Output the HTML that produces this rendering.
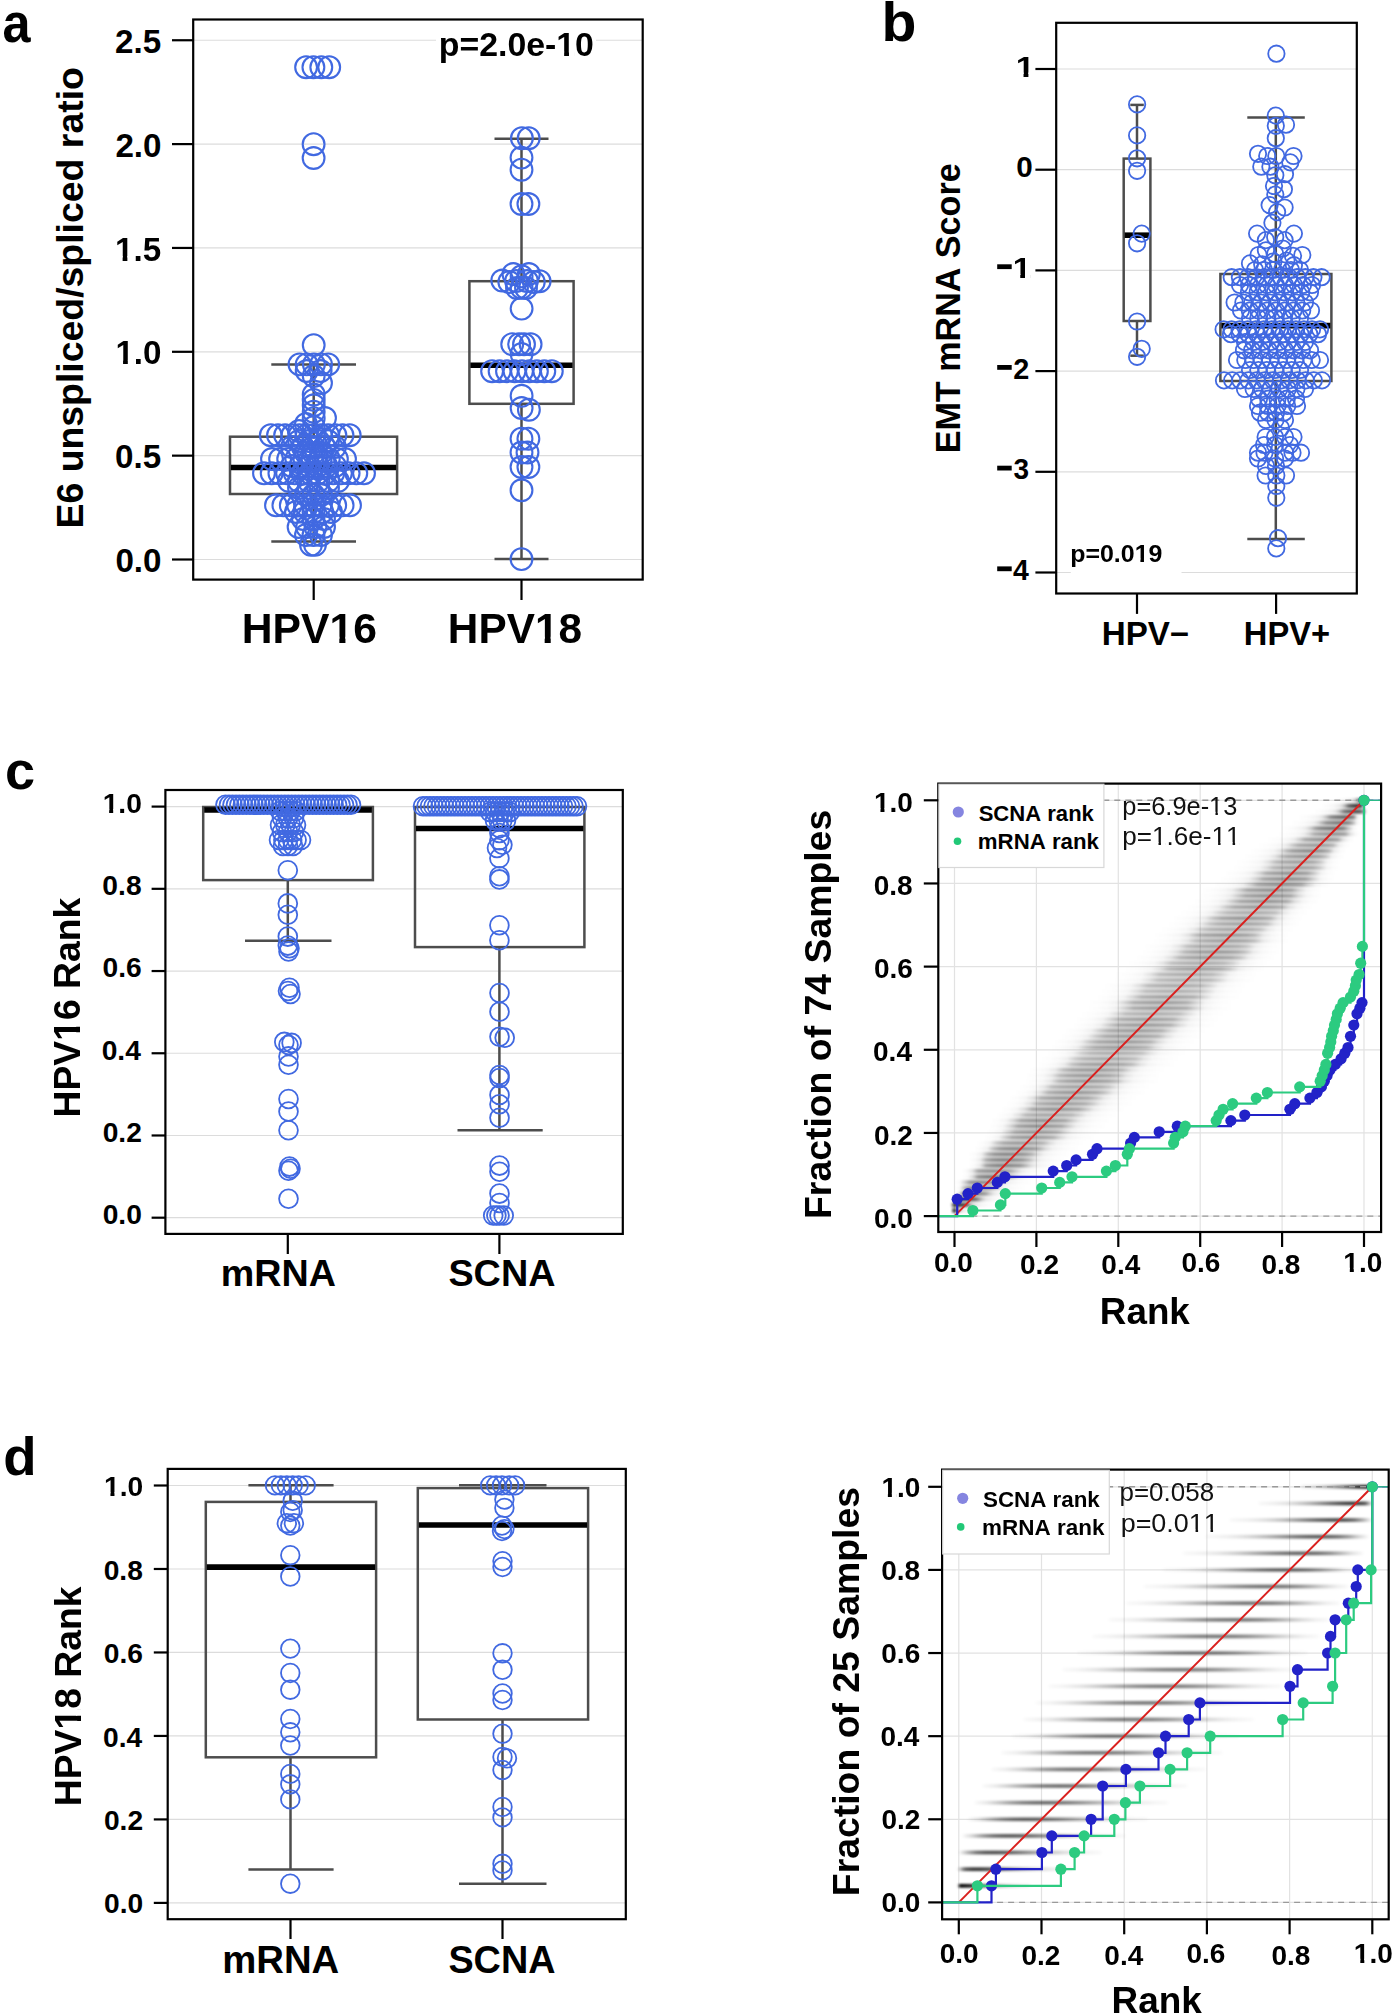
<!DOCTYPE html><html><head><meta charset="utf-8"><style>html,body{margin:0;padding:0;background:#fff;}svg{display:block;}text{font-kerning:none;font-feature-settings:"kern" 0;}</style></head><body>
<svg width="1395" height="2016" viewBox="0 0 1395 2016" font-family='"Liberation Sans", sans-serif'>
<rect width="1395" height="2016" fill="#fff"/>
<line x1="193.20" y1="559.50" x2="642.70" y2="559.50" stroke="#dcdcdc" stroke-width="1.2" />
<line x1="193.20" y1="455.65" x2="642.70" y2="455.65" stroke="#dcdcdc" stroke-width="1.2" />
<line x1="193.20" y1="351.80" x2="642.70" y2="351.80" stroke="#dcdcdc" stroke-width="1.2" />
<line x1="193.20" y1="247.95" x2="642.70" y2="247.95" stroke="#dcdcdc" stroke-width="1.2" />
<line x1="193.20" y1="144.10" x2="642.70" y2="144.10" stroke="#dcdcdc" stroke-width="1.2" />
<line x1="193.20" y1="40.25" x2="642.70" y2="40.25" stroke="#dcdcdc" stroke-width="1.2" />
<rect x="436" y="27" width="160" height="36" fill="#fff"/>
<g transform="translate(438.77,56.10) scale(0.9954,1)"><text font-size="34.00" font-weight="bold" fill="#000" mask="url(#m0)">p=2.0e-10</text></g>
<line x1="172.00" y1="559.50" x2="193.20" y2="559.50" stroke="#000" stroke-width="2.2" />
<g transform="translate(115.41,572.18)"><text font-size="33.20" font-weight="bold" fill="#000">0.0</text></g>
<line x1="172.00" y1="455.65" x2="193.20" y2="455.65" stroke="#000" stroke-width="2.2" />
<g transform="translate(114.97,468.33)"><text font-size="33.20" font-weight="bold" fill="#000">0.5</text></g>
<line x1="172.00" y1="351.80" x2="193.20" y2="351.80" stroke="#000" stroke-width="2.2" />
<g transform="translate(115.41,364.48)"><text font-size="33.20" font-weight="bold" fill="#000" mask="url(#m1)">1.0</text></g>
<line x1="172.00" y1="247.95" x2="193.20" y2="247.95" stroke="#000" stroke-width="2.2" />
<g transform="translate(114.97,260.63)"><text font-size="33.20" font-weight="bold" fill="#000" mask="url(#m2)">1.5</text></g>
<line x1="172.00" y1="144.10" x2="193.20" y2="144.10" stroke="#000" stroke-width="2.2" />
<g transform="translate(115.41,156.78)"><text font-size="33.20" font-weight="bold" fill="#000">2.0</text></g>
<line x1="172.00" y1="40.25" x2="193.20" y2="40.25" stroke="#000" stroke-width="2.2" />
<g transform="translate(114.97,52.93)"><text font-size="33.20" font-weight="bold" fill="#000">2.5</text></g>
<line x1="313.70" y1="579.60" x2="313.70" y2="600.00" stroke="#000" stroke-width="2.2" />
<line x1="521.50" y1="579.60" x2="521.50" y2="600.00" stroke="#000" stroke-width="2.2" />
<g transform="translate(241.75,642.80) scale(0.9832,1)"><text font-size="43.40" font-weight="bold" fill="#000" mask="url(#m3)">HPV16</text></g>
<g transform="translate(447.87,642.80) scale(0.9754,1)"><text font-size="43.40" font-weight="bold" fill="#000" mask="url(#m4)">HPV18</text></g>
<g transform="translate(83.10,528.50) rotate(-90) scale(1.0218,1)"><text font-size="36.60" font-weight="bold" fill="#000">E6 unspliced/spliced ratio</text></g>
<g transform="translate(2.62,42.26) scale(0.9062,1)"><text font-size="55.67" font-weight="bold" fill="#000">a</text></g>
<line x1="313.70" y1="364.50" x2="313.70" y2="436.70" stroke="#4d4d4d" stroke-width="2.5" />
<line x1="271.30" y1="364.50" x2="356.00" y2="364.50" stroke="#4d4d4d" stroke-width="2.5" />
<line x1="313.70" y1="494.00" x2="313.70" y2="541.60" stroke="#4d4d4d" stroke-width="2.5" />
<line x1="271.30" y1="541.60" x2="356.00" y2="541.60" stroke="#4d4d4d" stroke-width="2.5" />
<rect x="230.00" y="436.70" width="167.10" height="57.30" stroke="#4d4d4d" stroke-width="2.5" fill="none" />
<line x1="231.00" y1="467.50" x2="396.10" y2="467.50" stroke="#000" stroke-width="5.6" />
<line x1="521.50" y1="138.70" x2="521.50" y2="281.20" stroke="#4d4d4d" stroke-width="2.5" />
<line x1="494.50" y1="138.70" x2="548.50" y2="138.70" stroke="#4d4d4d" stroke-width="2.5" />
<line x1="521.50" y1="403.80" x2="521.50" y2="559.10" stroke="#4d4d4d" stroke-width="2.5" />
<line x1="494.50" y1="559.10" x2="548.50" y2="559.10" stroke="#4d4d4d" stroke-width="2.5" />
<rect x="469.40" y="281.20" width="104.20" height="122.60" stroke="#4d4d4d" stroke-width="2.5" fill="none" />
<line x1="470.40" y1="365.20" x2="572.60" y2="365.20" stroke="#000" stroke-width="5.6" />
<g fill="none" stroke="#4169e1" stroke-width="2.1">
<circle cx="306.1" cy="67.2" r="10.9"/>
<circle cx="313.4" cy="67.2" r="10.9"/>
<circle cx="321.3" cy="67.2" r="10.9"/>
<circle cx="329.2" cy="67.2" r="10.9"/>
<circle cx="313.6" cy="144.2" r="10.9"/>
<circle cx="313.6" cy="158.0" r="10.9"/>
<circle cx="313.7" cy="345.1" r="10.9"/>
<circle cx="299.5" cy="364.4" r="10.9"/>
<circle cx="306.7" cy="364.4" r="10.9"/>
<circle cx="313.9" cy="364.4" r="10.9"/>
<circle cx="321.0" cy="364.4" r="10.9"/>
<circle cx="328.2" cy="364.4" r="10.9"/>
<circle cx="306.7" cy="371.0" r="10.9"/>
<circle cx="320.6" cy="371.0" r="10.9"/>
<circle cx="313.7" cy="376.0" r="10.9"/>
<circle cx="321.0" cy="383.0" r="10.9"/>
<circle cx="313.7" cy="394.5" r="10.9"/>
<circle cx="313.7" cy="399.9" r="10.9"/>
<circle cx="313.7" cy="405.3" r="10.9"/>
<circle cx="313.7" cy="411.7" r="10.9"/>
<circle cx="313.7" cy="418.2" r="10.9"/>
<circle cx="325.0" cy="418.0" r="10.9"/>
<circle cx="306.0" cy="424.0" r="10.9"/>
<circle cx="313.7" cy="427.0" r="10.9"/>
<circle cx="299.0" cy="431.0" r="10.9"/>
<circle cx="270.8" cy="435.2" r="10.9"/>
<circle cx="278.0" cy="435.2" r="10.9"/>
<circle cx="285.1" cy="435.2" r="10.9"/>
<circle cx="292.3" cy="435.2" r="10.9"/>
<circle cx="299.5" cy="435.2" r="10.9"/>
<circle cx="306.7" cy="435.2" r="10.9"/>
<circle cx="313.8" cy="435.2" r="10.9"/>
<circle cx="321.0" cy="435.2" r="10.9"/>
<circle cx="328.2" cy="435.2" r="10.9"/>
<circle cx="335.4" cy="435.2" r="10.9"/>
<circle cx="342.5" cy="435.2" r="10.9"/>
<circle cx="349.7" cy="435.2" r="10.9"/>
<circle cx="299.0" cy="441.0" r="10.9"/>
<circle cx="308.7" cy="441.0" r="10.9"/>
<circle cx="318.3" cy="441.0" r="10.9"/>
<circle cx="328.0" cy="441.0" r="10.9"/>
<circle cx="292.0" cy="447.0" r="10.9"/>
<circle cx="302.8" cy="447.0" r="10.9"/>
<circle cx="313.5" cy="447.0" r="10.9"/>
<circle cx="324.2" cy="447.0" r="10.9"/>
<circle cx="335.0" cy="447.0" r="10.9"/>
<circle cx="306.0" cy="453.0" r="10.9"/>
<circle cx="313.5" cy="453.0" r="10.9"/>
<circle cx="321.0" cy="453.0" r="10.9"/>
<circle cx="272.0" cy="459.0" r="10.9"/>
<circle cx="280.1" cy="459.0" r="10.9"/>
<circle cx="288.2" cy="459.0" r="10.9"/>
<circle cx="296.3" cy="459.0" r="10.9"/>
<circle cx="304.4" cy="459.0" r="10.9"/>
<circle cx="312.6" cy="459.0" r="10.9"/>
<circle cx="320.7" cy="459.0" r="10.9"/>
<circle cx="328.8" cy="459.0" r="10.9"/>
<circle cx="336.9" cy="459.0" r="10.9"/>
<circle cx="345.0" cy="459.0" r="10.9"/>
<circle cx="292.0" cy="466.0" r="10.9"/>
<circle cx="300.6" cy="466.0" r="10.9"/>
<circle cx="309.2" cy="466.0" r="10.9"/>
<circle cx="317.8" cy="466.0" r="10.9"/>
<circle cx="326.4" cy="466.0" r="10.9"/>
<circle cx="335.0" cy="466.0" r="10.9"/>
<circle cx="264.0" cy="473.3" r="10.9"/>
<circle cx="271.7" cy="473.3" r="10.9"/>
<circle cx="279.4" cy="473.3" r="10.9"/>
<circle cx="287.1" cy="473.3" r="10.9"/>
<circle cx="294.8" cy="473.3" r="10.9"/>
<circle cx="302.5" cy="473.3" r="10.9"/>
<circle cx="310.2" cy="473.3" r="10.9"/>
<circle cx="317.8" cy="473.3" r="10.9"/>
<circle cx="325.5" cy="473.3" r="10.9"/>
<circle cx="333.2" cy="473.3" r="10.9"/>
<circle cx="340.9" cy="473.3" r="10.9"/>
<circle cx="348.6" cy="473.3" r="10.9"/>
<circle cx="356.3" cy="473.3" r="10.9"/>
<circle cx="364.0" cy="473.3" r="10.9"/>
<circle cx="289.0" cy="481.0" r="10.9"/>
<circle cx="298.8" cy="481.0" r="10.9"/>
<circle cx="308.6" cy="481.0" r="10.9"/>
<circle cx="318.4" cy="481.0" r="10.9"/>
<circle cx="328.2" cy="481.0" r="10.9"/>
<circle cx="338.0" cy="481.0" r="10.9"/>
<circle cx="299.0" cy="488.0" r="10.9"/>
<circle cx="308.7" cy="488.0" r="10.9"/>
<circle cx="318.3" cy="488.0" r="10.9"/>
<circle cx="328.0" cy="488.0" r="10.9"/>
<circle cx="306.0" cy="495.0" r="10.9"/>
<circle cx="313.5" cy="495.0" r="10.9"/>
<circle cx="321.0" cy="495.0" r="10.9"/>
<circle cx="276.0" cy="505.3" r="10.9"/>
<circle cx="283.4" cy="505.3" r="10.9"/>
<circle cx="290.8" cy="505.3" r="10.9"/>
<circle cx="298.2" cy="505.3" r="10.9"/>
<circle cx="305.6" cy="505.3" r="10.9"/>
<circle cx="313.0" cy="505.3" r="10.9"/>
<circle cx="320.4" cy="505.3" r="10.9"/>
<circle cx="327.8" cy="505.3" r="10.9"/>
<circle cx="335.2" cy="505.3" r="10.9"/>
<circle cx="342.6" cy="505.3" r="10.9"/>
<circle cx="350.0" cy="505.3" r="10.9"/>
<circle cx="296.0" cy="512.0" r="10.9"/>
<circle cx="304.8" cy="512.0" r="10.9"/>
<circle cx="313.5" cy="512.0" r="10.9"/>
<circle cx="322.2" cy="512.0" r="10.9"/>
<circle cx="331.0" cy="512.0" r="10.9"/>
<circle cx="303.0" cy="519.0" r="10.9"/>
<circle cx="313.5" cy="519.0" r="10.9"/>
<circle cx="324.0" cy="519.0" r="10.9"/>
<circle cx="298.6" cy="527.0" r="10.9"/>
<circle cx="307.1" cy="527.0" r="10.9"/>
<circle cx="315.5" cy="527.0" r="10.9"/>
<circle cx="324.0" cy="527.0" r="10.9"/>
<circle cx="306.0" cy="535.0" r="10.9"/>
<circle cx="313.5" cy="535.0" r="10.9"/>
<circle cx="321.0" cy="535.0" r="10.9"/>
<circle cx="311.0" cy="544.8" r="10.9"/>
<circle cx="315.0" cy="544.8" r="10.9"/>
</g>
<g fill="none" stroke="#4169e1" stroke-width="2.1">
<circle cx="521.9" cy="138.2" r="10.9"/>
<circle cx="528.7" cy="138.2" r="10.9"/>
<circle cx="521.5" cy="157.6" r="10.9"/>
<circle cx="521.5" cy="169.7" r="10.9"/>
<circle cx="521.5" cy="204.0" r="10.9"/>
<circle cx="528.4" cy="204.0" r="10.9"/>
<circle cx="513.4" cy="274.0" r="10.9"/>
<circle cx="521.6" cy="276.3" r="10.9"/>
<circle cx="528.9" cy="274.0" r="10.9"/>
<circle cx="502.3" cy="280.5" r="10.9"/>
<circle cx="509.3" cy="282.0" r="10.9"/>
<circle cx="516.0" cy="281.0" r="10.9"/>
<circle cx="527.0" cy="281.0" r="10.9"/>
<circle cx="533.8" cy="282.0" r="10.9"/>
<circle cx="539.6" cy="281.2" r="10.9"/>
<circle cx="517.0" cy="288.0" r="10.9"/>
<circle cx="521.6" cy="287.7" r="10.9"/>
<circle cx="526.0" cy="288.0" r="10.9"/>
<circle cx="521.6" cy="308.6" r="10.9"/>
<circle cx="512.2" cy="344.2" r="10.9"/>
<circle cx="519.1" cy="344.2" r="10.9"/>
<circle cx="524.0" cy="344.2" r="10.9"/>
<circle cx="530.6" cy="344.2" r="10.9"/>
<circle cx="521.6" cy="354.0" r="10.9"/>
<circle cx="492.1" cy="371.2" r="10.9"/>
<circle cx="499.6" cy="371.2" r="10.9"/>
<circle cx="507.0" cy="371.2" r="10.9"/>
<circle cx="514.5" cy="371.2" r="10.9"/>
<circle cx="522.0" cy="371.2" r="10.9"/>
<circle cx="529.4" cy="371.2" r="10.9"/>
<circle cx="536.9" cy="371.2" r="10.9"/>
<circle cx="544.3" cy="371.2" r="10.9"/>
<circle cx="551.8" cy="371.2" r="10.9"/>
<circle cx="521.6" cy="395.8" r="10.9"/>
<circle cx="521.6" cy="408.0" r="10.9"/>
<circle cx="528.9" cy="409.7" r="10.9"/>
<circle cx="521.5" cy="438.7" r="10.9"/>
<circle cx="528.4" cy="438.7" r="10.9"/>
<circle cx="521.5" cy="452.5" r="10.9"/>
<circle cx="527.5" cy="452.5" r="10.9"/>
<circle cx="521.5" cy="467.0" r="10.9"/>
<circle cx="528.4" cy="467.0" r="10.9"/>
<circle cx="521.5" cy="490.3" r="10.9"/>
<circle cx="521.5" cy="559.1" r="10.9"/>
</g>
<rect x="193.20" y="19.50" width="449.50" height="560.10" stroke="#000" stroke-width="2.2" fill="none" />
<line x1="1056.20" y1="69.00" x2="1356.80" y2="69.00" stroke="#dcdcdc" stroke-width="1.2" />
<line x1="1056.20" y1="169.70" x2="1356.80" y2="169.70" stroke="#dcdcdc" stroke-width="1.2" />
<line x1="1056.20" y1="270.40" x2="1356.80" y2="270.40" stroke="#dcdcdc" stroke-width="1.2" />
<line x1="1056.20" y1="371.10" x2="1356.80" y2="371.10" stroke="#dcdcdc" stroke-width="1.2" />
<line x1="1056.20" y1="471.80" x2="1356.80" y2="471.80" stroke="#dcdcdc" stroke-width="1.2" />
<line x1="1056.20" y1="572.50" x2="1356.80" y2="572.50" stroke="#dcdcdc" stroke-width="1.2" />
<rect x="1070.8" y="538" width="110.7" height="40" fill="#fff"/>
<g transform="translate(1070.15,561.80) scale(1.0186,1)"><text font-size="24.50" font-weight="bold" fill="#000" mask="url(#m5)">p=0.019</text></g>
<line x1="1035.40" y1="69.00" x2="1056.20" y2="69.00" stroke="#000" stroke-width="2.2" />
<g transform="translate(1015.67,76.66) scale(1.1322,1)"><text font-size="30.10" font-weight="bold" fill="#000" mask="url(#m6)">1</text></g>
<line x1="1035.40" y1="169.70" x2="1056.20" y2="169.70" stroke="#000" stroke-width="2.2" />
<g transform="translate(1016.13,177.36) scale(0.9850,1)"><text font-size="30.10" font-weight="bold" fill="#000">0</text></g>
<line x1="1035.40" y1="270.40" x2="1056.20" y2="270.40" stroke="#000" stroke-width="2.2" />
<g transform="translate(1012.64,278.06) scale(1.0992,1)"><text font-size="30.10" font-weight="bold" fill="#000" mask="url(#m7)">1</text></g>
<rect x="997.2" y="264.30" width="14.5" height="4.8" fill="#000"/>
<line x1="1035.40" y1="371.10" x2="1056.20" y2="371.10" stroke="#000" stroke-width="2.2" />
<g transform="translate(1013.20,378.76) scale(0.9592,1)"><text font-size="30.10" font-weight="bold" fill="#000">2</text></g>
<rect x="997.2" y="365.00" width="14.5" height="4.8" fill="#000"/>
<line x1="1035.40" y1="471.80" x2="1056.20" y2="471.80" stroke="#000" stroke-width="2.2" />
<g transform="translate(1013.56,479.46) scale(0.9290,1)"><text font-size="30.10" font-weight="bold" fill="#000">3</text></g>
<rect x="997.2" y="465.70" width="14.5" height="4.8" fill="#000"/>
<line x1="1035.40" y1="572.50" x2="1056.20" y2="572.50" stroke="#000" stroke-width="2.2" />
<g transform="translate(1013.07,580.16) scale(0.9459,1)"><text font-size="30.10" font-weight="bold" fill="#000">4</text></g>
<rect x="997.2" y="566.40" width="14.5" height="4.8" fill="#000"/>
<line x1="1137.00" y1="593.50" x2="1137.00" y2="613.90" stroke="#000" stroke-width="2.2" />
<line x1="1276.10" y1="593.50" x2="1276.10" y2="613.90" stroke="#000" stroke-width="2.2" />
<g transform="translate(1101.78,645.00) scale(1.0207,1)"><text font-size="32.50" font-weight="bold" fill="#000">HPV−</text></g>
<g transform="translate(1243.81,645.00) scale(1.0059,1)"><text font-size="32.50" font-weight="bold" fill="#000">HPV+</text></g>
<g transform="translate(959.50,453.28) rotate(-90) scale(0.9748,1)"><text font-size="35.00" font-weight="bold" fill="#000">EMT mRNA Score</text></g>
<g transform="translate(881.53,41.16) scale(1.0338,1)"><text font-size="55.29" font-weight="bold" fill="#000">b</text></g>
<line x1="1137.00" y1="104.90" x2="1137.00" y2="158.60" stroke="#4d4d4d" stroke-width="2.5" />
<line x1="1130.30" y1="104.90" x2="1143.80" y2="104.90" stroke="#4d4d4d" stroke-width="2.5" />
<line x1="1137.00" y1="321.00" x2="1137.00" y2="355.70" stroke="#4d4d4d" stroke-width="2.5" />
<line x1="1130.30" y1="355.70" x2="1143.80" y2="355.70" stroke="#4d4d4d" stroke-width="2.5" />
<rect x="1123.70" y="158.60" width="26.70" height="162.40" stroke="#4d4d4d" stroke-width="2.5" fill="none" />
<line x1="1124.70" y1="235.20" x2="1149.40" y2="235.20" stroke="#000" stroke-width="5.6" />
<line x1="1275.80" y1="117.50" x2="1275.80" y2="274.00" stroke="#4d4d4d" stroke-width="2.5" />
<line x1="1247.30" y1="117.50" x2="1304.80" y2="117.50" stroke="#4d4d4d" stroke-width="2.5" />
<line x1="1275.80" y1="381.00" x2="1275.80" y2="539.00" stroke="#4d4d4d" stroke-width="2.5" />
<line x1="1247.30" y1="539.00" x2="1304.80" y2="539.00" stroke="#4d4d4d" stroke-width="2.5" />
<rect x="1220.40" y="274.00" width="111.00" height="107.00" stroke="#4d4d4d" stroke-width="2.5" fill="none" />
<line x1="1221.40" y1="325.60" x2="1330.40" y2="325.60" stroke="#000" stroke-width="5.6" />
<g fill="none" stroke="#4169e1" stroke-width="1.8">
<circle cx="1137.1" cy="104.4" r="8.2"/>
<circle cx="1137.1" cy="135.4" r="8.2"/>
<circle cx="1137.1" cy="158.3" r="8.2"/>
<circle cx="1137.1" cy="170.8" r="8.2"/>
<circle cx="1141.7" cy="233.6" r="8.2"/>
<circle cx="1137.1" cy="243.3" r="8.2"/>
<circle cx="1137.1" cy="321.5" r="8.2"/>
<circle cx="1141.7" cy="348.8" r="8.2"/>
<circle cx="1137.1" cy="356.8" r="8.2"/>
</g>
<g fill="none" stroke="#4169e1" stroke-width="1.8">
<circle cx="1276.4" cy="53.7" r="8.2"/>
<circle cx="1275.8" cy="115.6" r="8.2"/>
<circle cx="1275.8" cy="125.8" r="8.2"/>
<circle cx="1286.0" cy="124.7" r="8.2"/>
<circle cx="1275.8" cy="138.2" r="8.2"/>
<circle cx="1258.0" cy="153.8" r="8.2"/>
<circle cx="1267.2" cy="156.0" r="8.2"/>
<circle cx="1276.3" cy="156.0" r="8.2"/>
<circle cx="1293.5" cy="156.0" r="8.2"/>
<circle cx="1261.3" cy="166.7" r="8.2"/>
<circle cx="1270.4" cy="166.7" r="8.2"/>
<circle cx="1290.3" cy="162.4" r="8.2"/>
<circle cx="1275.3" cy="175.3" r="8.2"/>
<circle cx="1285.0" cy="174.2" r="8.2"/>
<circle cx="1274.0" cy="186.0" r="8.2"/>
<circle cx="1283.9" cy="189.2" r="8.2"/>
<circle cx="1275.3" cy="194.6" r="8.2"/>
<circle cx="1269.6" cy="205.1" r="8.2"/>
<circle cx="1284.6" cy="207.5" r="8.2"/>
<circle cx="1277.1" cy="212.1" r="8.2"/>
<circle cx="1272.4" cy="222.8" r="8.2"/>
<circle cx="1257.1" cy="233.6" r="8.2"/>
<circle cx="1293.9" cy="233.6" r="8.2"/>
<circle cx="1265.9" cy="240.1" r="8.2"/>
<circle cx="1284.6" cy="240.1" r="8.2"/>
<circle cx="1275.2" cy="237.3" r="8.2"/>
<circle cx="1258.5" cy="255.0" r="8.2"/>
<circle cx="1302.3" cy="255.0" r="8.2"/>
<circle cx="1293.0" cy="255.9" r="8.2"/>
<circle cx="1265.9" cy="250.3" r="8.2"/>
<circle cx="1275.2" cy="254.0" r="8.2"/>
<circle cx="1282.7" cy="248.5" r="8.2"/>
<circle cx="1250.0" cy="263.4" r="8.2"/>
<circle cx="1262.2" cy="264.3" r="8.2"/>
<circle cx="1273.4" cy="261.5" r="8.2"/>
<circle cx="1286.4" cy="260.6" r="8.2"/>
<circle cx="1293.9" cy="265.2" r="8.2"/>
<circle cx="1255.0" cy="270.0" r="8.2"/>
<circle cx="1264.0" cy="270.0" r="8.2"/>
<circle cx="1273.0" cy="270.0" r="8.2"/>
<circle cx="1282.0" cy="270.0" r="8.2"/>
<circle cx="1291.0" cy="270.0" r="8.2"/>
<circle cx="1300.0" cy="270.0" r="8.2"/>
<circle cx="1231.7" cy="277.2" r="8.2"/>
<circle cx="1239.9" cy="277.2" r="8.2"/>
<circle cx="1248.0" cy="277.2" r="8.2"/>
<circle cx="1256.2" cy="277.2" r="8.2"/>
<circle cx="1264.4" cy="277.2" r="8.2"/>
<circle cx="1272.6" cy="277.2" r="8.2"/>
<circle cx="1280.7" cy="277.2" r="8.2"/>
<circle cx="1288.9" cy="277.2" r="8.2"/>
<circle cx="1297.1" cy="277.2" r="8.2"/>
<circle cx="1305.3" cy="277.2" r="8.2"/>
<circle cx="1313.4" cy="277.2" r="8.2"/>
<circle cx="1321.6" cy="277.2" r="8.2"/>
<circle cx="1240.0" cy="285.0" r="8.2"/>
<circle cx="1249.0" cy="285.0" r="8.2"/>
<circle cx="1258.0" cy="285.0" r="8.2"/>
<circle cx="1267.0" cy="285.0" r="8.2"/>
<circle cx="1276.0" cy="285.0" r="8.2"/>
<circle cx="1285.0" cy="285.0" r="8.2"/>
<circle cx="1294.0" cy="285.0" r="8.2"/>
<circle cx="1303.0" cy="285.0" r="8.2"/>
<circle cx="1312.0" cy="285.0" r="8.2"/>
<circle cx="1249.0" cy="292.3" r="8.2"/>
<circle cx="1257.7" cy="292.3" r="8.2"/>
<circle cx="1266.4" cy="292.3" r="8.2"/>
<circle cx="1275.1" cy="292.3" r="8.2"/>
<circle cx="1283.9" cy="292.3" r="8.2"/>
<circle cx="1292.6" cy="292.3" r="8.2"/>
<circle cx="1301.3" cy="292.3" r="8.2"/>
<circle cx="1310.0" cy="292.3" r="8.2"/>
<circle cx="1234.6" cy="302.5" r="8.2"/>
<circle cx="1243.4" cy="302.5" r="8.2"/>
<circle cx="1252.2" cy="302.5" r="8.2"/>
<circle cx="1261.0" cy="302.5" r="8.2"/>
<circle cx="1269.8" cy="302.5" r="8.2"/>
<circle cx="1278.6" cy="302.5" r="8.2"/>
<circle cx="1287.4" cy="302.5" r="8.2"/>
<circle cx="1296.2" cy="302.5" r="8.2"/>
<circle cx="1305.0" cy="302.5" r="8.2"/>
<circle cx="1241.0" cy="310.5" r="8.2"/>
<circle cx="1249.8" cy="310.5" r="8.2"/>
<circle cx="1258.5" cy="310.5" r="8.2"/>
<circle cx="1267.2" cy="310.5" r="8.2"/>
<circle cx="1276.0" cy="310.5" r="8.2"/>
<circle cx="1284.8" cy="310.5" r="8.2"/>
<circle cx="1293.5" cy="310.5" r="8.2"/>
<circle cx="1302.2" cy="310.5" r="8.2"/>
<circle cx="1311.0" cy="310.5" r="8.2"/>
<circle cx="1250.0" cy="318.0" r="8.2"/>
<circle cx="1258.3" cy="318.0" r="8.2"/>
<circle cx="1266.7" cy="318.0" r="8.2"/>
<circle cx="1275.0" cy="318.0" r="8.2"/>
<circle cx="1283.3" cy="318.0" r="8.2"/>
<circle cx="1291.7" cy="318.0" r="8.2"/>
<circle cx="1300.0" cy="318.0" r="8.2"/>
<circle cx="1223.6" cy="329.4" r="8.2"/>
<circle cx="1231.6" cy="329.4" r="8.2"/>
<circle cx="1239.7" cy="329.4" r="8.2"/>
<circle cx="1247.7" cy="329.4" r="8.2"/>
<circle cx="1255.7" cy="329.4" r="8.2"/>
<circle cx="1263.8" cy="329.4" r="8.2"/>
<circle cx="1271.8" cy="329.4" r="8.2"/>
<circle cx="1279.8" cy="329.4" r="8.2"/>
<circle cx="1287.9" cy="329.4" r="8.2"/>
<circle cx="1295.9" cy="329.4" r="8.2"/>
<circle cx="1303.9" cy="329.4" r="8.2"/>
<circle cx="1312.0" cy="329.4" r="8.2"/>
<circle cx="1320.0" cy="329.4" r="8.2"/>
<circle cx="1231.0" cy="334.2" r="8.2"/>
<circle cx="1239.7" cy="334.2" r="8.2"/>
<circle cx="1248.4" cy="334.2" r="8.2"/>
<circle cx="1257.1" cy="334.2" r="8.2"/>
<circle cx="1265.8" cy="334.2" r="8.2"/>
<circle cx="1274.5" cy="334.2" r="8.2"/>
<circle cx="1283.2" cy="334.2" r="8.2"/>
<circle cx="1291.9" cy="334.2" r="8.2"/>
<circle cx="1300.6" cy="334.2" r="8.2"/>
<circle cx="1309.3" cy="334.2" r="8.2"/>
<circle cx="1318.0" cy="334.2" r="8.2"/>
<circle cx="1245.0" cy="342.0" r="8.2"/>
<circle cx="1253.6" cy="342.0" r="8.2"/>
<circle cx="1262.1" cy="342.0" r="8.2"/>
<circle cx="1270.7" cy="342.0" r="8.2"/>
<circle cx="1279.3" cy="342.0" r="8.2"/>
<circle cx="1287.9" cy="342.0" r="8.2"/>
<circle cx="1296.4" cy="342.0" r="8.2"/>
<circle cx="1305.0" cy="342.0" r="8.2"/>
<circle cx="1244.0" cy="350.3" r="8.2"/>
<circle cx="1252.2" cy="350.3" r="8.2"/>
<circle cx="1260.5" cy="350.3" r="8.2"/>
<circle cx="1268.8" cy="350.3" r="8.2"/>
<circle cx="1277.0" cy="350.3" r="8.2"/>
<circle cx="1285.2" cy="350.3" r="8.2"/>
<circle cx="1293.5" cy="350.3" r="8.2"/>
<circle cx="1301.8" cy="350.3" r="8.2"/>
<circle cx="1310.0" cy="350.3" r="8.2"/>
<circle cx="1237.0" cy="360.0" r="8.2"/>
<circle cx="1245.3" cy="360.0" r="8.2"/>
<circle cx="1253.6" cy="360.0" r="8.2"/>
<circle cx="1261.9" cy="360.0" r="8.2"/>
<circle cx="1270.2" cy="360.0" r="8.2"/>
<circle cx="1278.5" cy="360.0" r="8.2"/>
<circle cx="1286.8" cy="360.0" r="8.2"/>
<circle cx="1295.1" cy="360.0" r="8.2"/>
<circle cx="1303.4" cy="360.0" r="8.2"/>
<circle cx="1311.7" cy="360.0" r="8.2"/>
<circle cx="1320.0" cy="360.0" r="8.2"/>
<circle cx="1250.0" cy="370.0" r="8.2"/>
<circle cx="1258.3" cy="370.0" r="8.2"/>
<circle cx="1266.7" cy="370.0" r="8.2"/>
<circle cx="1275.0" cy="370.0" r="8.2"/>
<circle cx="1283.3" cy="370.0" r="8.2"/>
<circle cx="1291.7" cy="370.0" r="8.2"/>
<circle cx="1300.0" cy="370.0" r="8.2"/>
<circle cx="1224.0" cy="380.4" r="8.2"/>
<circle cx="1232.2" cy="380.4" r="8.2"/>
<circle cx="1240.3" cy="380.4" r="8.2"/>
<circle cx="1248.5" cy="380.4" r="8.2"/>
<circle cx="1256.7" cy="380.4" r="8.2"/>
<circle cx="1264.8" cy="380.4" r="8.2"/>
<circle cx="1273.0" cy="380.4" r="8.2"/>
<circle cx="1281.2" cy="380.4" r="8.2"/>
<circle cx="1289.3" cy="380.4" r="8.2"/>
<circle cx="1297.5" cy="380.4" r="8.2"/>
<circle cx="1305.7" cy="380.4" r="8.2"/>
<circle cx="1313.8" cy="380.4" r="8.2"/>
<circle cx="1322.0" cy="380.4" r="8.2"/>
<circle cx="1245.0" cy="389.0" r="8.2"/>
<circle cx="1253.6" cy="389.0" r="8.2"/>
<circle cx="1262.1" cy="389.0" r="8.2"/>
<circle cx="1270.7" cy="389.0" r="8.2"/>
<circle cx="1279.3" cy="389.0" r="8.2"/>
<circle cx="1287.9" cy="389.0" r="8.2"/>
<circle cx="1296.4" cy="389.0" r="8.2"/>
<circle cx="1305.0" cy="389.0" r="8.2"/>
<circle cx="1259.0" cy="398.7" r="8.2"/>
<circle cx="1268.2" cy="398.7" r="8.2"/>
<circle cx="1277.5" cy="398.7" r="8.2"/>
<circle cx="1286.8" cy="398.7" r="8.2"/>
<circle cx="1296.0" cy="398.7" r="8.2"/>
<circle cx="1258.0" cy="406.0" r="8.2"/>
<circle cx="1267.8" cy="406.0" r="8.2"/>
<circle cx="1277.5" cy="406.0" r="8.2"/>
<circle cx="1287.2" cy="406.0" r="8.2"/>
<circle cx="1297.0" cy="406.0" r="8.2"/>
<circle cx="1260.0" cy="412.7" r="8.2"/>
<circle cx="1268.0" cy="412.7" r="8.2"/>
<circle cx="1276.0" cy="412.7" r="8.2"/>
<circle cx="1284.0" cy="412.7" r="8.2"/>
<circle cx="1266.0" cy="420.0" r="8.2"/>
<circle cx="1275.5" cy="420.0" r="8.2"/>
<circle cx="1285.0" cy="420.0" r="8.2"/>
<circle cx="1281.0" cy="428.0" r="8.2"/>
<circle cx="1265.6" cy="437.0" r="8.2"/>
<circle cx="1275.0" cy="437.0" r="8.2"/>
<circle cx="1285.0" cy="437.0" r="8.2"/>
<circle cx="1293.5" cy="437.0" r="8.2"/>
<circle cx="1264.0" cy="445.0" r="8.2"/>
<circle cx="1275.0" cy="445.0" r="8.2"/>
<circle cx="1290.0" cy="445.0" r="8.2"/>
<circle cx="1258.0" cy="452.7" r="8.2"/>
<circle cx="1264.5" cy="452.7" r="8.2"/>
<circle cx="1285.0" cy="452.7" r="8.2"/>
<circle cx="1292.5" cy="452.7" r="8.2"/>
<circle cx="1301.0" cy="452.7" r="8.2"/>
<circle cx="1258.0" cy="458.5" r="8.2"/>
<circle cx="1275.0" cy="458.5" r="8.2"/>
<circle cx="1285.0" cy="458.5" r="8.2"/>
<circle cx="1266.0" cy="466.0" r="8.2"/>
<circle cx="1276.0" cy="466.0" r="8.2"/>
<circle cx="1265.6" cy="475.5" r="8.2"/>
<circle cx="1276.3" cy="475.5" r="8.2"/>
<circle cx="1286.0" cy="475.5" r="8.2"/>
<circle cx="1276.3" cy="486.0" r="8.2"/>
<circle cx="1276.3" cy="497.8" r="8.2"/>
<circle cx="1278.0" cy="538.2" r="8.2"/>
<circle cx="1276.3" cy="548.4" r="8.2"/>
</g>
<rect x="1056.20" y="22.80" width="300.60" height="570.70" stroke="#000" stroke-width="2.2" fill="none" />
<line x1="165.40" y1="1217.70" x2="622.80" y2="1217.70" stroke="#dcdcdc" stroke-width="1.2" />
<line x1="165.40" y1="1135.48" x2="622.80" y2="1135.48" stroke="#dcdcdc" stroke-width="1.2" />
<line x1="165.40" y1="1053.26" x2="622.80" y2="1053.26" stroke="#dcdcdc" stroke-width="1.2" />
<line x1="165.40" y1="971.04" x2="622.80" y2="971.04" stroke="#dcdcdc" stroke-width="1.2" />
<line x1="165.40" y1="888.82" x2="622.80" y2="888.82" stroke="#dcdcdc" stroke-width="1.2" />
<line x1="165.40" y1="806.60" x2="622.80" y2="806.60" stroke="#dcdcdc" stroke-width="1.2" />
<line x1="151.60" y1="1217.70" x2="165.40" y2="1217.70" stroke="#000" stroke-width="2.2" />
<g transform="translate(102.65,1223.98)"><text font-size="28.20" font-weight="bold" fill="#000">0.0</text></g>
<line x1="151.60" y1="1135.48" x2="165.40" y2="1135.48" stroke="#000" stroke-width="2.2" />
<g transform="translate(102.63,1141.76)"><text font-size="28.20" font-weight="bold" fill="#000">0.2</text></g>
<line x1="151.60" y1="1053.26" x2="165.40" y2="1053.26" stroke="#000" stroke-width="2.2" />
<g transform="translate(101.65,1059.54)"><text font-size="28.20" font-weight="bold" fill="#000">0.4</text></g>
<line x1="151.60" y1="971.04" x2="165.40" y2="971.04" stroke="#000" stroke-width="2.2" />
<g transform="translate(102.52,977.32)"><text font-size="28.20" font-weight="bold" fill="#000">0.6</text></g>
<line x1="151.60" y1="888.82" x2="165.40" y2="888.82" stroke="#000" stroke-width="2.2" />
<g transform="translate(102.37,895.10)"><text font-size="28.20" font-weight="bold" fill="#000">0.8</text></g>
<line x1="151.60" y1="806.60" x2="165.40" y2="806.60" stroke="#000" stroke-width="2.2" />
<g transform="translate(102.65,812.88)"><text font-size="28.20" font-weight="bold" fill="#000" mask="url(#m8)">1.0</text></g>
<line x1="287.80" y1="1233.90" x2="287.80" y2="1254.00" stroke="#000" stroke-width="2.2" />
<line x1="499.40" y1="1233.90" x2="499.40" y2="1254.00" stroke="#000" stroke-width="2.2" />
<g transform="translate(220.82,1286.00) scale(0.9998,1)"><text font-size="37.70" font-weight="bold" fill="#000">mRNA</text></g>
<g transform="translate(448.41,1286.00) scale(1.0025,1)"><text font-size="37.70" font-weight="bold" fill="#000">SCNA</text></g>
<g transform="translate(79.60,1117.50) rotate(-90) scale(0.9951,1)"><text font-size="37.50" font-weight="bold" fill="#000" mask="url(#m9)">HPV16 Rank</text></g>
<g transform="translate(4.99,788.87) scale(0.9983,1)"><text font-size="54.21" font-weight="bold" fill="#000">c</text></g>
<line x1="287.80" y1="880.10" x2="287.80" y2="940.80" stroke="#4d4d4d" stroke-width="2.5" />
<line x1="245.00" y1="940.80" x2="331.50" y2="940.80" stroke="#4d4d4d" stroke-width="2.5" />
<rect x="203.20" y="807.00" width="169.70" height="73.10" stroke="#4d4d4d" stroke-width="2.5" fill="none" />
<line x1="204.20" y1="810.00" x2="371.90" y2="810.00" stroke="#000" stroke-width="5.6" />
<line x1="499.40" y1="947.10" x2="499.40" y2="1130.30" stroke="#4d4d4d" stroke-width="2.5" />
<line x1="457.50" y1="1130.30" x2="542.70" y2="1130.30" stroke="#4d4d4d" stroke-width="2.5" />
<rect x="415.00" y="807.00" width="169.40" height="140.10" stroke="#4d4d4d" stroke-width="2.5" fill="none" />
<line x1="416.00" y1="828.50" x2="583.40" y2="828.50" stroke="#000" stroke-width="5.6" />
<g fill="none" stroke="#4169e1" stroke-width="1.8">
<circle cx="225.5" cy="804.8" r="9.4"/>
<circle cx="229.0" cy="804.8" r="9.4"/>
<circle cx="232.5" cy="804.8" r="9.4"/>
<circle cx="236.0" cy="804.8" r="9.4"/>
<circle cx="239.4" cy="804.8" r="9.4"/>
<circle cx="242.9" cy="804.8" r="9.4"/>
<circle cx="246.4" cy="804.8" r="9.4"/>
<circle cx="249.9" cy="804.8" r="9.4"/>
<circle cx="253.4" cy="804.8" r="9.4"/>
<circle cx="256.9" cy="804.8" r="9.4"/>
<circle cx="260.4" cy="804.8" r="9.4"/>
<circle cx="263.8" cy="804.8" r="9.4"/>
<circle cx="267.3" cy="804.8" r="9.4"/>
<circle cx="270.8" cy="804.8" r="9.4"/>
<circle cx="274.3" cy="804.8" r="9.4"/>
<circle cx="277.8" cy="804.8" r="9.4"/>
<circle cx="281.3" cy="804.8" r="9.4"/>
<circle cx="284.8" cy="804.8" r="9.4"/>
<circle cx="288.2" cy="804.8" r="9.4"/>
<circle cx="291.7" cy="804.8" r="9.4"/>
<circle cx="295.2" cy="804.8" r="9.4"/>
<circle cx="298.7" cy="804.8" r="9.4"/>
<circle cx="302.2" cy="804.8" r="9.4"/>
<circle cx="305.7" cy="804.8" r="9.4"/>
<circle cx="309.2" cy="804.8" r="9.4"/>
<circle cx="312.7" cy="804.8" r="9.4"/>
<circle cx="316.1" cy="804.8" r="9.4"/>
<circle cx="319.6" cy="804.8" r="9.4"/>
<circle cx="323.1" cy="804.8" r="9.4"/>
<circle cx="326.6" cy="804.8" r="9.4"/>
<circle cx="330.1" cy="804.8" r="9.4"/>
<circle cx="333.6" cy="804.8" r="9.4"/>
<circle cx="337.1" cy="804.8" r="9.4"/>
<circle cx="340.5" cy="804.8" r="9.4"/>
<circle cx="344.0" cy="804.8" r="9.4"/>
<circle cx="347.5" cy="804.8" r="9.4"/>
<circle cx="351.0" cy="804.8" r="9.4"/>
<circle cx="280.0" cy="811.0" r="9.4"/>
<circle cx="285.3" cy="811.0" r="9.4"/>
<circle cx="290.7" cy="811.0" r="9.4"/>
<circle cx="296.0" cy="811.0" r="9.4"/>
<circle cx="282.0" cy="818.0" r="9.4"/>
<circle cx="288.0" cy="818.0" r="9.4"/>
<circle cx="294.0" cy="818.0" r="9.4"/>
<circle cx="280.0" cy="825.0" r="9.4"/>
<circle cx="285.3" cy="825.0" r="9.4"/>
<circle cx="290.7" cy="825.0" r="9.4"/>
<circle cx="296.0" cy="825.0" r="9.4"/>
<circle cx="282.0" cy="832.0" r="9.4"/>
<circle cx="288.0" cy="832.0" r="9.4"/>
<circle cx="294.0" cy="832.0" r="9.4"/>
<circle cx="279.0" cy="840.0" r="9.4"/>
<circle cx="283.4" cy="840.0" r="9.4"/>
<circle cx="287.8" cy="840.0" r="9.4"/>
<circle cx="292.2" cy="840.0" r="9.4"/>
<circle cx="296.6" cy="840.0" r="9.4"/>
<circle cx="301.0" cy="840.0" r="9.4"/>
<circle cx="283.0" cy="846.0" r="9.4"/>
<circle cx="288.0" cy="846.0" r="9.4"/>
<circle cx="293.0" cy="846.0" r="9.4"/>
<circle cx="287.8" cy="870.3" r="9.4"/>
<circle cx="287.8" cy="903.4" r="9.4"/>
<circle cx="287.8" cy="914.7" r="9.4"/>
<circle cx="287.8" cy="936.6" r="9.4"/>
<circle cx="287.8" cy="945.6" r="9.4"/>
<circle cx="288.5" cy="951.4" r="9.4"/>
<circle cx="289.5" cy="948.3" r="9.4"/>
<circle cx="289.5" cy="987.8" r="9.4"/>
<circle cx="290.5" cy="994.0" r="9.4"/>
<circle cx="288.0" cy="991.0" r="9.4"/>
<circle cx="284.3" cy="1041.9" r="9.4"/>
<circle cx="291.6" cy="1042.9" r="9.4"/>
<circle cx="288.5" cy="1045.0" r="9.4"/>
<circle cx="288.5" cy="1056.4" r="9.4"/>
<circle cx="288.5" cy="1064.7" r="9.4"/>
<circle cx="288.5" cy="1099.0" r="9.4"/>
<circle cx="288.5" cy="1111.5" r="9.4"/>
<circle cx="288.5" cy="1130.2" r="9.4"/>
<circle cx="289.5" cy="1166.6" r="9.4"/>
<circle cx="290.5" cy="1168.7" r="9.4"/>
<circle cx="288.5" cy="1170.8" r="9.4"/>
<circle cx="288.5" cy="1198.8" r="9.4"/>
</g>
<g fill="none" stroke="#4169e1" stroke-width="1.8">
<circle cx="423.0" cy="806.3" r="9.4"/>
<circle cx="426.5" cy="806.3" r="9.4"/>
<circle cx="430.0" cy="806.3" r="9.4"/>
<circle cx="433.5" cy="806.3" r="9.4"/>
<circle cx="437.0" cy="806.3" r="9.4"/>
<circle cx="440.5" cy="806.3" r="9.4"/>
<circle cx="444.0" cy="806.3" r="9.4"/>
<circle cx="447.5" cy="806.3" r="9.4"/>
<circle cx="451.0" cy="806.3" r="9.4"/>
<circle cx="454.5" cy="806.3" r="9.4"/>
<circle cx="458.0" cy="806.3" r="9.4"/>
<circle cx="461.5" cy="806.3" r="9.4"/>
<circle cx="465.0" cy="806.3" r="9.4"/>
<circle cx="468.5" cy="806.3" r="9.4"/>
<circle cx="472.0" cy="806.3" r="9.4"/>
<circle cx="475.5" cy="806.3" r="9.4"/>
<circle cx="479.0" cy="806.3" r="9.4"/>
<circle cx="482.5" cy="806.3" r="9.4"/>
<circle cx="486.0" cy="806.3" r="9.4"/>
<circle cx="489.5" cy="806.3" r="9.4"/>
<circle cx="493.0" cy="806.3" r="9.4"/>
<circle cx="496.5" cy="806.3" r="9.4"/>
<circle cx="500.0" cy="806.3" r="9.4"/>
<circle cx="503.5" cy="806.3" r="9.4"/>
<circle cx="507.0" cy="806.3" r="9.4"/>
<circle cx="510.5" cy="806.3" r="9.4"/>
<circle cx="514.0" cy="806.3" r="9.4"/>
<circle cx="517.5" cy="806.3" r="9.4"/>
<circle cx="521.0" cy="806.3" r="9.4"/>
<circle cx="524.5" cy="806.3" r="9.4"/>
<circle cx="528.0" cy="806.3" r="9.4"/>
<circle cx="531.5" cy="806.3" r="9.4"/>
<circle cx="535.0" cy="806.3" r="9.4"/>
<circle cx="538.5" cy="806.3" r="9.4"/>
<circle cx="542.0" cy="806.3" r="9.4"/>
<circle cx="545.5" cy="806.3" r="9.4"/>
<circle cx="549.0" cy="806.3" r="9.4"/>
<circle cx="552.5" cy="806.3" r="9.4"/>
<circle cx="556.0" cy="806.3" r="9.4"/>
<circle cx="559.5" cy="806.3" r="9.4"/>
<circle cx="563.0" cy="806.3" r="9.4"/>
<circle cx="566.5" cy="806.3" r="9.4"/>
<circle cx="570.0" cy="806.3" r="9.4"/>
<circle cx="573.5" cy="806.3" r="9.4"/>
<circle cx="577.0" cy="806.3" r="9.4"/>
<circle cx="490.0" cy="812.0" r="9.4"/>
<circle cx="495.0" cy="812.0" r="9.4"/>
<circle cx="500.0" cy="812.0" r="9.4"/>
<circle cx="505.0" cy="812.0" r="9.4"/>
<circle cx="510.0" cy="812.0" r="9.4"/>
<circle cx="495.0" cy="820.6" r="9.4"/>
<circle cx="498.7" cy="820.6" r="9.4"/>
<circle cx="502.3" cy="820.6" r="9.4"/>
<circle cx="506.0" cy="820.6" r="9.4"/>
<circle cx="499.4" cy="828.0" r="9.4"/>
<circle cx="499.4" cy="833.0" r="9.4"/>
<circle cx="499.4" cy="840.2" r="9.4"/>
<circle cx="502.4" cy="844.7" r="9.4"/>
<circle cx="497.0" cy="848.0" r="9.4"/>
<circle cx="499.4" cy="858.3" r="9.4"/>
<circle cx="499.4" cy="876.3" r="9.4"/>
<circle cx="499.4" cy="879.4" r="9.4"/>
<circle cx="499.4" cy="925.3" r="9.4"/>
<circle cx="499.4" cy="940.3" r="9.4"/>
<circle cx="499.5" cy="993.0" r="9.4"/>
<circle cx="499.5" cy="1011.7" r="9.4"/>
<circle cx="499.5" cy="1036.7" r="9.4"/>
<circle cx="504.7" cy="1037.7" r="9.4"/>
<circle cx="499.5" cy="1075.0" r="9.4"/>
<circle cx="499.5" cy="1078.0" r="9.4"/>
<circle cx="499.5" cy="1094.9" r="9.4"/>
<circle cx="499.5" cy="1104.2" r="9.4"/>
<circle cx="499.5" cy="1117.8" r="9.4"/>
<circle cx="499.5" cy="1165.6" r="9.4"/>
<circle cx="499.5" cy="1171.8" r="9.4"/>
<circle cx="499.5" cy="1193.6" r="9.4"/>
<circle cx="499.5" cy="1203.0" r="9.4"/>
<circle cx="493.2" cy="1215.5" r="9.4"/>
<circle cx="496.4" cy="1215.5" r="9.4"/>
<circle cx="499.5" cy="1215.5" r="9.4"/>
<circle cx="503.7" cy="1215.5" r="9.4"/>
</g>
<rect x="165.40" y="790.00" width="457.40" height="443.90" stroke="#000" stroke-width="2.2" fill="none" />
<line x1="167.70" y1="1902.90" x2="625.80" y2="1902.90" stroke="#dcdcdc" stroke-width="1.2" />
<line x1="167.70" y1="1819.42" x2="625.80" y2="1819.42" stroke="#dcdcdc" stroke-width="1.2" />
<line x1="167.70" y1="1735.94" x2="625.80" y2="1735.94" stroke="#dcdcdc" stroke-width="1.2" />
<line x1="167.70" y1="1652.46" x2="625.80" y2="1652.46" stroke="#dcdcdc" stroke-width="1.2" />
<line x1="167.70" y1="1568.98" x2="625.80" y2="1568.98" stroke="#dcdcdc" stroke-width="1.2" />
<line x1="167.70" y1="1485.50" x2="625.80" y2="1485.50" stroke="#dcdcdc" stroke-width="1.2" />
<line x1="153.80" y1="1902.90" x2="167.70" y2="1902.90" stroke="#000" stroke-width="2.2" />
<g transform="translate(103.95,1913.48)"><text font-size="28.20" font-weight="bold" fill="#000">0.0</text></g>
<line x1="153.80" y1="1819.42" x2="167.70" y2="1819.42" stroke="#000" stroke-width="2.2" />
<g transform="translate(103.93,1830.00)"><text font-size="28.20" font-weight="bold" fill="#000">0.2</text></g>
<line x1="153.80" y1="1735.94" x2="167.70" y2="1735.94" stroke="#000" stroke-width="2.2" />
<g transform="translate(102.95,1746.52)"><text font-size="28.20" font-weight="bold" fill="#000">0.4</text></g>
<line x1="153.80" y1="1652.46" x2="167.70" y2="1652.46" stroke="#000" stroke-width="2.2" />
<g transform="translate(103.82,1663.04)"><text font-size="28.20" font-weight="bold" fill="#000">0.6</text></g>
<line x1="153.80" y1="1568.98" x2="167.70" y2="1568.98" stroke="#000" stroke-width="2.2" />
<g transform="translate(103.67,1579.56)"><text font-size="28.20" font-weight="bold" fill="#000">0.8</text></g>
<line x1="153.80" y1="1485.50" x2="167.70" y2="1485.50" stroke="#000" stroke-width="2.2" />
<g transform="translate(103.95,1496.08)"><text font-size="28.20" font-weight="bold" fill="#000" mask="url(#m10)">1.0</text></g>
<line x1="290.50" y1="1919.20" x2="290.50" y2="1939.00" stroke="#000" stroke-width="2.2" />
<line x1="502.50" y1="1919.20" x2="502.50" y2="1939.00" stroke="#000" stroke-width="2.2" />
<g transform="translate(222.17,1972.60) scale(1.0088,1)"><text font-size="38.00" font-weight="bold" fill="#000">mRNA</text></g>
<g transform="translate(448.41,1972.60) scale(0.9945,1)"><text font-size="38.00" font-weight="bold" fill="#000">SCNA</text></g>
<g transform="translate(81.40,1806.30) rotate(-90) scale(0.9951,1)"><text font-size="37.50" font-weight="bold" fill="#000" mask="url(#m11)">HPV18 Rank</text></g>
<g transform="translate(3.36,1474.57) scale(1.0070,1)"><text font-size="54.20" font-weight="bold" fill="#000">d</text></g>
<line x1="290.50" y1="1485.30" x2="290.50" y2="1501.90" stroke="#4d4d4d" stroke-width="2.5" />
<line x1="248.40" y1="1485.30" x2="333.60" y2="1485.30" stroke="#4d4d4d" stroke-width="2.5" />
<line x1="290.50" y1="1757.30" x2="290.50" y2="1869.50" stroke="#4d4d4d" stroke-width="2.5" />
<line x1="248.40" y1="1869.50" x2="333.60" y2="1869.50" stroke="#4d4d4d" stroke-width="2.5" />
<rect x="205.80" y="1501.90" width="170.30" height="255.40" stroke="#4d4d4d" stroke-width="2.5" fill="none" />
<line x1="206.80" y1="1567.10" x2="375.10" y2="1567.10" stroke="#000" stroke-width="5.6" />
<line x1="502.50" y1="1485.30" x2="502.50" y2="1488.10" stroke="#4d4d4d" stroke-width="2.5" />
<line x1="459.00" y1="1485.30" x2="546.50" y2="1485.30" stroke="#4d4d4d" stroke-width="2.5" />
<line x1="502.50" y1="1719.50" x2="502.50" y2="1883.70" stroke="#4d4d4d" stroke-width="2.5" />
<line x1="459.00" y1="1883.70" x2="546.50" y2="1883.70" stroke="#4d4d4d" stroke-width="2.5" />
<rect x="417.80" y="1488.10" width="170.30" height="231.40" stroke="#4d4d4d" stroke-width="2.5" fill="none" />
<line x1="418.80" y1="1525.00" x2="587.10" y2="1525.00" stroke="#000" stroke-width="5.6" />
<g fill="none" stroke="#4169e1" stroke-width="1.8">
<circle cx="275.0" cy="1485.4" r="9.3"/>
<circle cx="280.9" cy="1485.4" r="9.3"/>
<circle cx="286.8" cy="1485.4" r="9.3"/>
<circle cx="292.7" cy="1485.4" r="9.3"/>
<circle cx="298.6" cy="1485.4" r="9.3"/>
<circle cx="305.7" cy="1485.4" r="9.3"/>
<circle cx="292.7" cy="1500.8" r="9.3"/>
<circle cx="292.7" cy="1510.2" r="9.3"/>
<circle cx="290.3" cy="1512.0" r="9.3"/>
<circle cx="286.8" cy="1523.2" r="9.3"/>
<circle cx="293.9" cy="1523.2" r="9.3"/>
<circle cx="290.3" cy="1525.6" r="9.3"/>
<circle cx="290.3" cy="1555.2" r="9.3"/>
<circle cx="290.3" cy="1576.5" r="9.3"/>
<circle cx="290.3" cy="1648.6" r="9.3"/>
<circle cx="290.3" cy="1673.0" r="9.3"/>
<circle cx="290.3" cy="1689.7" r="9.3"/>
<circle cx="290.3" cy="1719.0" r="9.3"/>
<circle cx="290.3" cy="1732.3" r="9.3"/>
<circle cx="290.3" cy="1745.5" r="9.3"/>
<circle cx="290.3" cy="1773.9" r="9.3"/>
<circle cx="290.3" cy="1784.3" r="9.3"/>
<circle cx="290.3" cy="1799.4" r="9.3"/>
<circle cx="290.3" cy="1883.7" r="9.3"/>
</g>
<g fill="none" stroke="#4169e1" stroke-width="1.8">
<circle cx="490.2" cy="1485.4" r="9.3"/>
<circle cx="496.1" cy="1485.4" r="9.3"/>
<circle cx="502.0" cy="1485.4" r="9.3"/>
<circle cx="509.2" cy="1485.4" r="9.3"/>
<circle cx="515.1" cy="1485.4" r="9.3"/>
<circle cx="504.4" cy="1499.6" r="9.3"/>
<circle cx="504.4" cy="1507.9" r="9.3"/>
<circle cx="502.0" cy="1525.6" r="9.3"/>
<circle cx="504.4" cy="1529.1" r="9.3"/>
<circle cx="502.0" cy="1531.0" r="9.3"/>
<circle cx="502.5" cy="1561.1" r="9.3"/>
<circle cx="502.5" cy="1567.0" r="9.3"/>
<circle cx="502.5" cy="1653.3" r="9.3"/>
<circle cx="502.5" cy="1669.8" r="9.3"/>
<circle cx="502.5" cy="1693.5" r="9.3"/>
<circle cx="502.5" cy="1700.0" r="9.3"/>
<circle cx="502.5" cy="1733.7" r="9.3"/>
<circle cx="502.5" cy="1756.9" r="9.3"/>
<circle cx="507.0" cy="1758.3" r="9.3"/>
<circle cx="502.5" cy="1770.0" r="9.3"/>
<circle cx="502.5" cy="1807.0" r="9.3"/>
<circle cx="502.5" cy="1817.4" r="9.3"/>
<circle cx="502.5" cy="1863.8" r="9.3"/>
<circle cx="502.5" cy="1870.4" r="9.3"/>
</g>
<rect x="167.70" y="1468.90" width="458.10" height="450.30" stroke="#000" stroke-width="2.2" fill="none" />
<line x1="954.50" y1="783.60" x2="954.50" y2="1232.00" stroke="#e2e2e2" stroke-width="1.2" />
<line x1="938.30" y1="1216.10" x2="1381.10" y2="1216.10" stroke="#e2e2e2" stroke-width="1.2" />
<line x1="1036.40" y1="783.60" x2="1036.40" y2="1232.00" stroke="#e2e2e2" stroke-width="1.2" />
<line x1="938.30" y1="1132.94" x2="1381.10" y2="1132.94" stroke="#e2e2e2" stroke-width="1.2" />
<line x1="1118.30" y1="783.60" x2="1118.30" y2="1232.00" stroke="#e2e2e2" stroke-width="1.2" />
<line x1="938.30" y1="1049.78" x2="1381.10" y2="1049.78" stroke="#e2e2e2" stroke-width="1.2" />
<line x1="1200.20" y1="783.60" x2="1200.20" y2="1232.00" stroke="#e2e2e2" stroke-width="1.2" />
<line x1="938.30" y1="966.62" x2="1381.10" y2="966.62" stroke="#e2e2e2" stroke-width="1.2" />
<line x1="1282.10" y1="783.60" x2="1282.10" y2="1232.00" stroke="#e2e2e2" stroke-width="1.2" />
<line x1="938.30" y1="883.46" x2="1381.10" y2="883.46" stroke="#e2e2e2" stroke-width="1.2" />
<line x1="1364.00" y1="783.60" x2="1364.00" y2="1232.00" stroke="#e2e2e2" stroke-width="1.2" />
<line x1="938.30" y1="800.30" x2="1381.10" y2="800.30" stroke="#e2e2e2" stroke-width="1.2" />
<g filter="url(#f0)">
<rect x="952.2" y="1208.3" width="25.7" height="4.4" fill="url(#g0)" opacity="0.93"/>
<rect x="950.6" y="1202.7" width="42.2" height="4.4" fill="url(#g1)" opacity="1.00"/>
<rect x="952.5" y="1197.0" width="53.4" height="4.4" fill="url(#g2)" opacity="1.00"/>
<rect x="955.0" y="1191.4" width="61.6" height="4.4" fill="url(#g3)" opacity="0.82"/>
<rect x="956.0" y="1185.8" width="68.8" height="4.4" fill="url(#g4)" opacity="0.81"/>
<rect x="955.8" y="1180.2" width="75.5" height="4.4" fill="url(#g5)" opacity="0.83"/>
<rect x="962.7" y="1174.6" width="81.6" height="4.4" fill="url(#g6)" opacity="0.97"/>
<rect x="961.8" y="1168.9" width="86.2" height="4.4" fill="url(#g7)" opacity="0.85"/>
<rect x="969.1" y="1163.3" width="91.3" height="4.4" fill="url(#g8)" opacity="1.00"/>
<rect x="968.6" y="1157.7" width="95.4" height="4.4" fill="url(#g9)" opacity="1.00"/>
<rect x="969.3" y="1152.1" width="99.5" height="4.4" fill="url(#g10)" opacity="1.00"/>
<rect x="974.5" y="1146.5" width="103.1" height="4.4" fill="url(#g11)" opacity="1.00"/>
<rect x="977.0" y="1140.9" width="106.2" height="4.4" fill="url(#g12)" opacity="0.86"/>
<rect x="985.1" y="1135.2" width="109.2" height="4.4" fill="url(#g13)" opacity="0.92"/>
<rect x="987.2" y="1129.6" width="112.3" height="4.4" fill="url(#g14)" opacity="0.87"/>
<rect x="989.4" y="1124.0" width="115.4" height="4.4" fill="url(#g15)" opacity="1.00"/>
<rect x="991.5" y="1118.4" width="117.9" height="4.4" fill="url(#g16)" opacity="1.00"/>
<rect x="996.5" y="1112.8" width="120.0" height="4.4" fill="url(#g17)" opacity="0.82"/>
<rect x="1001.5" y="1107.1" width="123.1" height="4.4" fill="url(#g18)" opacity="1.00"/>
<rect x="1007.2" y="1101.5" width="124.6" height="4.4" fill="url(#g19)" opacity="0.93"/>
<rect x="1009.4" y="1095.9" width="126.6" height="4.4" fill="url(#g20)" opacity="0.98"/>
<rect x="1016.1" y="1090.3" width="128.7" height="4.4" fill="url(#g21)" opacity="1.00"/>
<rect x="1019.9" y="1084.7" width="129.7" height="4.4" fill="url(#g22)" opacity="0.90"/>
<rect x="1026.0" y="1079.0" width="131.8" height="4.4" fill="url(#g23)" opacity="1.00"/>
<rect x="1026.7" y="1073.4" width="132.8" height="4.4" fill="url(#g24)" opacity="1.00"/>
<rect x="1030.2" y="1067.8" width="134.3" height="4.4" fill="url(#g25)" opacity="1.00"/>
<rect x="1039.0" y="1062.2" width="135.3" height="4.4" fill="url(#g26)" opacity="0.97"/>
<rect x="1041.9" y="1056.6" width="136.4" height="4.4" fill="url(#g27)" opacity="0.86"/>
<rect x="1047.6" y="1051.0" width="137.4" height="4.4" fill="url(#g28)" opacity="0.82"/>
<rect x="1051.6" y="1045.3" width="138.4" height="4.4" fill="url(#g29)" opacity="1.00"/>
<rect x="1055.0" y="1039.7" width="138.9" height="4.4" fill="url(#g30)" opacity="1.00"/>
<rect x="1061.5" y="1034.1" width="139.9" height="4.4" fill="url(#g31)" opacity="1.00"/>
<rect x="1065.7" y="1028.5" width="139.9" height="4.4" fill="url(#g32)" opacity="1.00"/>
<rect x="1074.0" y="1022.9" width="140.5" height="4.4" fill="url(#g33)" opacity="1.00"/>
<rect x="1076.8" y="1017.2" width="141.0" height="4.4" fill="url(#g34)" opacity="0.99"/>
<rect x="1082.2" y="1011.6" width="141.0" height="4.4" fill="url(#g35)" opacity="0.82"/>
<rect x="1089.2" y="1006.0" width="141.5" height="4.4" fill="url(#g36)" opacity="1.00"/>
<rect x="1089.7" y="1000.4" width="141.5" height="4.4" fill="url(#g37)" opacity="1.00"/>
<rect x="1097.8" y="994.8" width="141.0" height="4.4" fill="url(#g38)" opacity="0.95"/>
<rect x="1101.6" y="989.1" width="141.0" height="4.4" fill="url(#g39)" opacity="0.81"/>
<rect x="1104.4" y="983.5" width="140.5" height="4.4" fill="url(#g40)" opacity="0.87"/>
<rect x="1114.3" y="977.9" width="139.9" height="4.4" fill="url(#g41)" opacity="0.82"/>
<rect x="1116.0" y="972.3" width="139.9" height="4.4" fill="url(#g42)" opacity="0.85"/>
<rect x="1125.7" y="966.7" width="138.9" height="4.4" fill="url(#g43)" opacity="0.96"/>
<rect x="1128.6" y="961.0" width="138.4" height="4.4" fill="url(#g44)" opacity="0.83"/>
<rect x="1137.1" y="955.4" width="137.4" height="4.4" fill="url(#g45)" opacity="1.00"/>
<rect x="1142.6" y="949.8" width="136.4" height="4.4" fill="url(#g46)" opacity="1.00"/>
<rect x="1145.3" y="944.2" width="135.3" height="4.4" fill="url(#g47)" opacity="0.91"/>
<rect x="1154.0" y="938.6" width="134.3" height="4.4" fill="url(#g48)" opacity="0.94"/>
<rect x="1155.3" y="933.0" width="132.8" height="4.4" fill="url(#g49)" opacity="1.00"/>
<rect x="1161.5" y="927.3" width="131.8" height="4.4" fill="url(#g50)" opacity="0.87"/>
<rect x="1169.3" y="921.7" width="129.7" height="4.4" fill="url(#g51)" opacity="0.89"/>
<rect x="1173.5" y="916.1" width="128.7" height="4.4" fill="url(#g52)" opacity="1.00"/>
<rect x="1180.6" y="910.5" width="126.6" height="4.4" fill="url(#g53)" opacity="0.80"/>
<rect x="1187.7" y="904.9" width="124.6" height="4.4" fill="url(#g54)" opacity="0.95"/>
<rect x="1194.7" y="899.2" width="123.1" height="4.4" fill="url(#g55)" opacity="1.00"/>
<rect x="1200.9" y="893.6" width="120.0" height="4.4" fill="url(#g56)" opacity="1.00"/>
<rect x="1203.3" y="888.0" width="117.9" height="4.4" fill="url(#g57)" opacity="1.00"/>
<rect x="1214.7" y="882.4" width="115.4" height="4.4" fill="url(#g58)" opacity="1.00"/>
<rect x="1221.5" y="876.8" width="112.3" height="4.4" fill="url(#g59)" opacity="1.00"/>
<rect x="1225.5" y="871.1" width="109.2" height="4.4" fill="url(#g60)" opacity="0.96"/>
<rect x="1233.7" y="865.5" width="106.2" height="4.4" fill="url(#g61)" opacity="0.84"/>
<rect x="1236.7" y="859.9" width="103.1" height="4.4" fill="url(#g62)" opacity="0.82"/>
<rect x="1244.5" y="854.3" width="99.5" height="4.4" fill="url(#g63)" opacity="0.88"/>
<rect x="1250.9" y="848.7" width="95.4" height="4.4" fill="url(#g64)" opacity="0.94"/>
<rect x="1258.7" y="843.1" width="91.3" height="4.4" fill="url(#g65)" opacity="0.80"/>
<rect x="1267.8" y="837.4" width="86.2" height="4.4" fill="url(#g66)" opacity="0.84"/>
<rect x="1278.8" y="831.8" width="81.6" height="4.4" fill="url(#g67)" opacity="0.81"/>
<rect x="1282.3" y="826.2" width="75.5" height="4.4" fill="url(#g68)" opacity="1.00"/>
<rect x="1292.3" y="820.6" width="68.8" height="4.4" fill="url(#g69)" opacity="0.90"/>
<rect x="1299.5" y="815.0" width="61.6" height="4.4" fill="url(#g70)" opacity="0.95"/>
<rect x="1314.9" y="809.3" width="52.3" height="4.4" fill="url(#g71)" opacity="1.00"/>
<rect x="1322.8" y="803.7" width="41.1" height="4.4" fill="url(#g72)" opacity="0.99"/>
<rect x="1335.7" y="798.1" width="28.3" height="4.4" fill="url(#g73)" opacity="0.83"/>
</g>
<line x1="938.30" y1="1216.10" x2="1381.10" y2="1216.10" stroke="#9a9a9a" stroke-width="1.4" stroke-dasharray="6,5"/>
<line x1="938.30" y1="800.30" x2="1381.10" y2="800.30" stroke="#9a9a9a" stroke-width="1.4" stroke-dasharray="6,5"/>
<line x1="954.50" y1="1216.10" x2="1364.00" y2="800.30" stroke="#d9201e" stroke-width="2.0" />
<path d="M938.3,1216.1 H957.2 V1199.2 H968.0 V1193.6 H977.3 V1188.0 H997.3 V1182.4 H1004.9 V1176.8 H1053.2 V1171.1 H1066.7 V1165.5 H1076.1 V1159.9 H1092.5 V1154.3 H1097.0 V1148.7 H1130.6 V1143.1 H1134.3 V1137.4 H1159.2 V1131.8 H1177.3 V1126.2 H1230.9 V1120.6 H1244.8 V1115.0 H1289.9 V1109.3 H1294.8 V1103.7 H1309.9 V1098.1 H1316.9 V1092.5 H1321.4 V1086.9 H1324.3 V1081.2 H1327.1 V1075.6 H1330.0 V1070.0 H1335.3 V1064.4 H1341.1 V1058.8 H1344.8 V1053.2 H1348.0 V1047.5 H1350.5 V1036.3 H1353.8 V1025.1 H1357.0 V1013.8 H1359.9 V1008.2 H1362.0 V1002.6 H1364.0 V800.3" fill="none" stroke="#2222c8" stroke-width="2.2"/>
<path d="M1364.0,800.3 H1381.1" fill="none" stroke="#2222c8" stroke-width="1.2"/>
<g fill="#2222c8"><circle cx="957.2" cy="1199.2" r="5.6"/><circle cx="968.0" cy="1193.6" r="5.6"/><circle cx="977.3" cy="1188.0" r="5.6"/><circle cx="997.3" cy="1182.4" r="5.6"/><circle cx="1004.9" cy="1176.8" r="5.6"/><circle cx="1053.2" cy="1171.1" r="5.6"/><circle cx="1066.7" cy="1165.5" r="5.6"/><circle cx="1076.1" cy="1159.9" r="5.6"/><circle cx="1092.5" cy="1154.3" r="5.6"/><circle cx="1097.0" cy="1148.7" r="5.6"/><circle cx="1130.6" cy="1143.1" r="5.6"/><circle cx="1134.3" cy="1137.4" r="5.6"/><circle cx="1159.2" cy="1131.8" r="5.6"/><circle cx="1177.3" cy="1126.2" r="5.6"/><circle cx="1230.9" cy="1120.6" r="5.6"/><circle cx="1244.8" cy="1115.0" r="5.6"/><circle cx="1289.9" cy="1109.3" r="5.6"/><circle cx="1294.8" cy="1103.7" r="5.6"/><circle cx="1309.9" cy="1098.1" r="5.6"/><circle cx="1316.9" cy="1092.5" r="5.6"/><circle cx="1321.4" cy="1086.9" r="5.6"/><circle cx="1324.3" cy="1081.2" r="5.6"/><circle cx="1327.1" cy="1075.6" r="5.6"/><circle cx="1330.0" cy="1070.0" r="5.6"/><circle cx="1335.3" cy="1064.4" r="5.6"/><circle cx="1341.1" cy="1058.8" r="5.6"/><circle cx="1344.8" cy="1053.2" r="5.6"/><circle cx="1348.0" cy="1047.5" r="5.6"/><circle cx="1350.5" cy="1036.3" r="5.6"/><circle cx="1353.8" cy="1025.1" r="5.6"/><circle cx="1357.0" cy="1013.8" r="5.6"/><circle cx="1359.9" cy="1008.2" r="5.6"/><circle cx="1362.0" cy="1002.6" r="5.6"/><circle cx="1364.0" cy="800.3" r="5.6"/></g>
<path d="M938.3,1216.1 H972.9 V1210.5 H1000.4 V1204.9 H1005.3 V1193.6 H1041.7 V1188.0 H1059.7 V1182.4 H1072.0 V1176.8 H1106.4 V1171.1 H1115.4 V1165.5 H1127.3 V1154.3 H1129.4 V1148.7 H1173.6 V1143.1 H1175.2 V1137.4 H1183.0 V1131.8 H1185.3 V1126.2 H1216.2 V1120.6 H1219.0 V1115.0 H1223.1 V1109.3 H1232.6 V1103.7 H1256.3 V1098.1 H1267.4 V1092.5 H1299.7 V1086.9 H1320.2 V1081.2 H1322.2 V1075.6 H1324.3 V1070.0 H1325.9 V1064.4 H1327.6 V1053.2 H1329.6 V1047.5 H1330.8 V1041.9 H1331.6 V1036.3 H1333.3 V1030.7 H1334.5 V1025.1 H1336.2 V1019.4 H1337.4 V1013.8 H1340.2 V1008.2 H1343.1 V1002.6 H1350.5 V997.0 H1353.8 V991.3 H1355.4 V985.7 H1356.2 V980.1 H1359.1 V974.5 H1360.7 V963.2 H1362.4 V946.4 H1364.0 V800.3" fill="none" stroke="#2ccb80" stroke-width="2.2"/>
<path d="M1364.0,800.3 H1381.1" fill="none" stroke="#2ccb80" stroke-width="1.2"/>
<g fill="#2ccb80"><circle cx="972.9" cy="1210.5" r="5.6"/><circle cx="1000.4" cy="1204.9" r="5.6"/><circle cx="1005.3" cy="1193.6" r="5.6"/><circle cx="1041.7" cy="1188.0" r="5.6"/><circle cx="1059.7" cy="1182.4" r="5.6"/><circle cx="1072.0" cy="1176.8" r="5.6"/><circle cx="1106.4" cy="1171.1" r="5.6"/><circle cx="1115.4" cy="1165.5" r="5.6"/><circle cx="1127.3" cy="1154.3" r="5.6"/><circle cx="1129.4" cy="1148.7" r="5.6"/><circle cx="1173.6" cy="1143.1" r="5.6"/><circle cx="1175.2" cy="1137.4" r="5.6"/><circle cx="1183.0" cy="1131.8" r="5.6"/><circle cx="1185.3" cy="1126.2" r="5.6"/><circle cx="1216.2" cy="1120.6" r="5.6"/><circle cx="1219.0" cy="1115.0" r="5.6"/><circle cx="1223.1" cy="1109.3" r="5.6"/><circle cx="1232.6" cy="1103.7" r="5.6"/><circle cx="1256.3" cy="1098.1" r="5.6"/><circle cx="1267.4" cy="1092.5" r="5.6"/><circle cx="1299.7" cy="1086.9" r="5.6"/><circle cx="1320.2" cy="1081.2" r="5.6"/><circle cx="1322.2" cy="1075.6" r="5.6"/><circle cx="1324.3" cy="1070.0" r="5.6"/><circle cx="1325.9" cy="1064.4" r="5.6"/><circle cx="1327.6" cy="1053.2" r="5.6"/><circle cx="1329.6" cy="1047.5" r="5.6"/><circle cx="1330.8" cy="1041.9" r="5.6"/><circle cx="1331.6" cy="1036.3" r="5.6"/><circle cx="1333.3" cy="1030.7" r="5.6"/><circle cx="1334.5" cy="1025.1" r="5.6"/><circle cx="1336.2" cy="1019.4" r="5.6"/><circle cx="1337.4" cy="1013.8" r="5.6"/><circle cx="1340.2" cy="1008.2" r="5.6"/><circle cx="1343.1" cy="1002.6" r="5.6"/><circle cx="1350.5" cy="997.0" r="5.6"/><circle cx="1353.8" cy="991.3" r="5.6"/><circle cx="1355.4" cy="985.7" r="5.6"/><circle cx="1356.2" cy="980.1" r="5.6"/><circle cx="1359.1" cy="974.5" r="5.6"/><circle cx="1360.7" cy="963.2" r="5.6"/><circle cx="1362.4" cy="946.4" r="5.6"/><circle cx="1364.0" cy="800.3" r="5.6"/></g>
<rect x="938.30" y="783.60" width="442.80" height="448.40" stroke="#000" stroke-width="2.2" fill="none" />
<rect x="938.9" y="784.2" width="165.0" height="83.3" fill="#fff" stroke="#d8d8d8" stroke-width="1.2"/>
<circle cx="958.3" cy="812" r="5.6" fill="#8585e0"/>
<circle cx="957.5" cy="841.2" r="3.8" fill="#22c877"/>
<g transform="translate(978.66,820.90) scale(0.9855,1)"><text font-size="22.40" font-weight="bold" fill="#000">SCNA rank</text></g>
<g transform="translate(977.83,848.90) scale(0.9931,1)"><text font-size="22.40" font-weight="bold" fill="#000">mRNA rank</text></g>
<g transform="translate(1122.26,814.50) scale(1.0004,1)"><text font-size="25.40" font-weight="normal" fill="#111" mask="url(#m12)">p=6.9e-13</text></g>
<g transform="translate(1122.22,845.00) scale(1.0289,1)"><text font-size="25.40" font-weight="normal" fill="#111" mask="url(#m13)">p=1.6e-11</text></g>
<line x1="923.80" y1="1216.10" x2="938.30" y2="1216.10" stroke="#000" stroke-width="2.2" />
<g transform="translate(874.02,1227.81)"><text font-size="28.00" font-weight="bold" fill="#000">0.0</text></g>
<line x1="954.50" y1="1232.00" x2="954.50" y2="1247.00" stroke="#000" stroke-width="2.2" />
<g transform="translate(933.96,1271.70)"><text font-size="28.00" font-weight="bold" fill="#000">0.0</text></g>
<line x1="923.80" y1="1132.94" x2="938.30" y2="1132.94" stroke="#000" stroke-width="2.2" />
<g transform="translate(874.00,1144.65)"><text font-size="28.00" font-weight="bold" fill="#000">0.2</text></g>
<line x1="1036.40" y1="1232.00" x2="1036.40" y2="1247.00" stroke="#000" stroke-width="2.2" />
<g transform="translate(1020.04,1274.00)"><text font-size="28.00" font-weight="bold" fill="#000">0.2</text></g>
<line x1="923.80" y1="1049.78" x2="938.30" y2="1049.78" stroke="#000" stroke-width="2.2" />
<g transform="translate(873.03,1061.49)"><text font-size="28.00" font-weight="bold" fill="#000">0.4</text></g>
<line x1="1118.30" y1="1232.00" x2="1118.30" y2="1247.00" stroke="#000" stroke-width="2.2" />
<g transform="translate(1101.36,1274.00)"><text font-size="28.00" font-weight="bold" fill="#000">0.4</text></g>
<line x1="923.80" y1="966.62" x2="938.30" y2="966.62" stroke="#000" stroke-width="2.2" />
<g transform="translate(873.89,978.33)"><text font-size="28.00" font-weight="bold" fill="#000">0.6</text></g>
<line x1="1200.20" y1="1232.00" x2="1200.20" y2="1247.00" stroke="#000" stroke-width="2.2" />
<g transform="translate(1181.39,1271.70)"><text font-size="28.00" font-weight="bold" fill="#000">0.6</text></g>
<line x1="923.80" y1="883.46" x2="938.30" y2="883.46" stroke="#000" stroke-width="2.2" />
<g transform="translate(873.74,895.17)"><text font-size="28.00" font-weight="bold" fill="#000">0.8</text></g>
<line x1="1282.10" y1="1232.00" x2="1282.10" y2="1247.00" stroke="#000" stroke-width="2.2" />
<g transform="translate(1261.42,1274.00)"><text font-size="28.00" font-weight="bold" fill="#000">0.8</text></g>
<line x1="923.80" y1="800.30" x2="938.30" y2="800.30" stroke="#000" stroke-width="2.2" />
<g transform="translate(874.02,812.01)"><text font-size="28.00" font-weight="bold" fill="#000" mask="url(#m14)">1.0</text></g>
<line x1="1364.00" y1="1232.00" x2="1364.00" y2="1247.00" stroke="#000" stroke-width="2.2" />
<g transform="translate(1343.36,1271.70)"><text font-size="28.00" font-weight="bold" fill="#000" mask="url(#m15)">1.0</text></g>
<g transform="translate(1099.84,1323.80) scale(0.9977,1)"><text font-size="36.90" font-weight="bold" fill="#000">Rank</text></g>
<g transform="translate(830.90,1219.00) rotate(-90) scale(1.0103,1)"><text font-size="37.00" font-weight="bold" fill="#000">Fraction of 74 Samples</text></g>
<line x1="958.80" y1="1469.60" x2="958.80" y2="1919.30" stroke="#e2e2e2" stroke-width="1.2" />
<line x1="942.10" y1="1902.40" x2="1388.70" y2="1902.40" stroke="#e2e2e2" stroke-width="1.2" />
<line x1="1041.50" y1="1469.60" x2="1041.50" y2="1919.30" stroke="#e2e2e2" stroke-width="1.2" />
<line x1="942.10" y1="1819.28" x2="1388.70" y2="1819.28" stroke="#e2e2e2" stroke-width="1.2" />
<line x1="1124.20" y1="1469.60" x2="1124.20" y2="1919.30" stroke="#e2e2e2" stroke-width="1.2" />
<line x1="942.10" y1="1736.16" x2="1388.70" y2="1736.16" stroke="#e2e2e2" stroke-width="1.2" />
<line x1="1206.90" y1="1469.60" x2="1206.90" y2="1919.30" stroke="#e2e2e2" stroke-width="1.2" />
<line x1="942.10" y1="1653.04" x2="1388.70" y2="1653.04" stroke="#e2e2e2" stroke-width="1.2" />
<line x1="1289.60" y1="1469.60" x2="1289.60" y2="1919.30" stroke="#e2e2e2" stroke-width="1.2" />
<line x1="942.10" y1="1569.92" x2="1388.70" y2="1569.92" stroke="#e2e2e2" stroke-width="1.2" />
<line x1="1372.30" y1="1469.60" x2="1372.30" y2="1919.30" stroke="#e2e2e2" stroke-width="1.2" />
<line x1="942.10" y1="1486.80" x2="1388.70" y2="1486.80" stroke="#e2e2e2" stroke-width="1.2" />
<g filter="url(#f74)">
<rect x="958.8" y="1883.9" width="71.4" height="3.8" fill="url(#g74)"/>
<rect x="957.7" y="1867.3" width="114.4" height="3.8" fill="url(#g75)"/>
<rect x="958.7" y="1850.6" width="142.3" height="3.8" fill="url(#g76)"/>
<rect x="962.3" y="1834.0" width="163.0" height="3.8" fill="url(#g77)"/>
<rect x="968.0" y="1817.4" width="179.6" height="3.8" fill="url(#g78)"/>
<rect x="974.7" y="1800.8" width="193.0" height="3.8" fill="url(#g79)"/>
<rect x="982.5" y="1784.1" width="204.4" height="3.8" fill="url(#g80)"/>
<rect x="991.8" y="1767.5" width="213.2" height="3.8" fill="url(#g81)"/>
<rect x="1001.6" y="1750.9" width="220.4" height="3.8" fill="url(#g82)"/>
<rect x="1012.5" y="1734.3" width="225.6" height="3.8" fill="url(#g83)"/>
<rect x="1023.8" y="1717.6" width="229.7" height="3.8" fill="url(#g84)"/>
<rect x="1036.2" y="1701.0" width="231.8" height="3.8" fill="url(#g85)"/>
<rect x="1049.1" y="1684.4" width="232.8" height="3.8" fill="url(#g86)"/>
<rect x="1063.1" y="1667.8" width="231.8" height="3.8" fill="url(#g87)"/>
<rect x="1077.6" y="1651.1" width="229.7" height="3.8" fill="url(#g88)"/>
<rect x="1093.1" y="1634.5" width="225.6" height="3.8" fill="url(#g89)"/>
<rect x="1109.1" y="1617.9" width="220.4" height="3.8" fill="url(#g90)"/>
<rect x="1126.2" y="1601.3" width="213.2" height="3.8" fill="url(#g91)"/>
<rect x="1144.3" y="1584.6" width="204.4" height="3.8" fill="url(#g92)"/>
<rect x="1163.4" y="1568.0" width="193.0" height="3.8" fill="url(#g93)"/>
<rect x="1183.5" y="1551.4" width="179.6" height="3.8" fill="url(#g94)"/>
<rect x="1205.8" y="1534.8" width="163.0" height="3.8" fill="url(#g95)"/>
<rect x="1230.1" y="1518.1" width="142.2" height="3.8" fill="url(#g96)"/>
<rect x="1259.0" y="1501.5" width="113.3" height="3.8" fill="url(#g97)"/>
<rect x="1300.9" y="1484.9" width="71.4" height="3.8" fill="url(#g98)"/>
</g>
<line x1="942.10" y1="1902.40" x2="1388.70" y2="1902.40" stroke="#9a9a9a" stroke-width="1.4" stroke-dasharray="6,5"/>
<line x1="942.10" y1="1486.80" x2="1388.70" y2="1486.80" stroke="#9a9a9a" stroke-width="1.4" stroke-dasharray="6,5"/>
<line x1="958.80" y1="1902.40" x2="1372.30" y2="1486.80" stroke="#d9201e" stroke-width="2.0" />
<path d="M942.1,1902.4 H991.5 V1885.8 H995.9 V1869.2 H1041.9 V1852.5 H1051.8 V1835.9 H1091.1 V1819.3 H1102.7 V1786.0 H1125.9 V1769.4 H1158.5 V1752.8 H1165.5 V1736.2 H1188.7 V1719.5 H1199.9 V1702.9 H1290.0 V1686.3 H1297.5 V1669.7 H1327.6 V1653.0 H1330.5 V1636.4 H1335.1 V1619.8 H1348.3 V1603.2 H1356.2 V1586.5 H1357.8 V1569.9 H1372.3 V1486.8" fill="none" stroke="#2222c8" stroke-width="2.2"/>
<path d="M1372.3,1486.8 H1388.7" fill="none" stroke="#2222c8" stroke-width="1.2"/>
<g fill="#2222c8"><circle cx="991.5" cy="1885.8" r="5.6"/><circle cx="995.9" cy="1869.2" r="5.6"/><circle cx="1041.9" cy="1852.5" r="5.6"/><circle cx="1051.8" cy="1835.9" r="5.6"/><circle cx="1091.1" cy="1819.3" r="5.6"/><circle cx="1102.7" cy="1786.0" r="5.6"/><circle cx="1125.9" cy="1769.4" r="5.6"/><circle cx="1158.5" cy="1752.8" r="5.6"/><circle cx="1165.5" cy="1736.2" r="5.6"/><circle cx="1188.7" cy="1719.5" r="5.6"/><circle cx="1199.9" cy="1702.9" r="5.6"/><circle cx="1290.0" cy="1686.3" r="5.6"/><circle cx="1297.5" cy="1669.7" r="5.6"/><circle cx="1327.6" cy="1653.0" r="5.6"/><circle cx="1330.5" cy="1636.4" r="5.6"/><circle cx="1335.1" cy="1619.8" r="5.6"/><circle cx="1348.3" cy="1603.2" r="5.6"/><circle cx="1356.2" cy="1586.5" r="5.6"/><circle cx="1357.8" cy="1569.9" r="5.6"/><circle cx="1372.3" cy="1486.8" r="5.6"/></g>
<path d="M942.1,1902.4 H977.4 V1885.8 H1060.9 V1869.2 H1074.6 V1852.5 H1084.1 V1835.9 H1114.3 V1819.3 H1125.4 V1802.7 H1139.9 V1786.0 H1170.1 V1769.4 H1187.1 V1752.8 H1210.2 V1736.2 H1282.6 V1719.5 H1303.2 V1702.9 H1332.6 V1686.3 H1335.1 V1653.0 H1346.2 V1619.8 H1353.7 V1603.2 H1371.1 V1569.9 H1372.3 V1486.8" fill="none" stroke="#2ccb80" stroke-width="2.2"/>
<path d="M1372.3,1486.8 H1388.7" fill="none" stroke="#2ccb80" stroke-width="1.2"/>
<g fill="#2ccb80"><circle cx="977.4" cy="1885.8" r="5.6"/><circle cx="1060.9" cy="1869.2" r="5.6"/><circle cx="1074.6" cy="1852.5" r="5.6"/><circle cx="1084.1" cy="1835.9" r="5.6"/><circle cx="1114.3" cy="1819.3" r="5.6"/><circle cx="1125.4" cy="1802.7" r="5.6"/><circle cx="1139.9" cy="1786.0" r="5.6"/><circle cx="1170.1" cy="1769.4" r="5.6"/><circle cx="1187.1" cy="1752.8" r="5.6"/><circle cx="1210.2" cy="1736.2" r="5.6"/><circle cx="1282.6" cy="1719.5" r="5.6"/><circle cx="1303.2" cy="1702.9" r="5.6"/><circle cx="1332.6" cy="1686.3" r="5.6"/><circle cx="1335.1" cy="1653.0" r="5.6"/><circle cx="1346.2" cy="1619.8" r="5.6"/><circle cx="1353.7" cy="1603.2" r="5.6"/><circle cx="1371.1" cy="1569.9" r="5.6"/><circle cx="1372.3" cy="1486.8" r="5.6"/></g>
<rect x="942.10" y="1469.60" width="446.60" height="449.70" stroke="#000" stroke-width="2.2" fill="none" />
<rect x="942.7" y="1470.2" width="166.6" height="83.8" fill="#fff" stroke="#d8d8d8" stroke-width="1.2"/>
<circle cx="962.7" cy="1498.3" r="5.6" fill="#8585e0"/>
<circle cx="960.7" cy="1526.9" r="3.8" fill="#22c877"/>
<g transform="translate(982.96,1506.60) scale(0.9993,1)"><text font-size="22.40" font-weight="bold" fill="#000">SCNA rank</text></g>
<g transform="translate(982.12,1534.60) scale(1.0031,1)"><text font-size="22.40" font-weight="bold" fill="#000">mRNA rank</text></g>
<g transform="translate(1119.53,1501.30) scale(0.9989,1)"><text font-size="26.00" font-weight="normal" fill="#111">p=0.058</text></g>
<g transform="translate(1120.66,1532.30) scale(1.0365,1)"><text font-size="26.00" font-weight="normal" fill="#111" mask="url(#m16)">p=0.011</text></g>
<line x1="928.20" y1="1902.40" x2="942.10" y2="1902.40" stroke="#000" stroke-width="2.2" />
<g transform="translate(881.42,1912.31)"><text font-size="28.00" font-weight="bold" fill="#000">0.0</text></g>
<line x1="958.80" y1="1919.30" x2="958.80" y2="1934.30" stroke="#000" stroke-width="2.2" />
<g transform="translate(939.76,1962.70)"><text font-size="28.00" font-weight="bold" fill="#000">0.0</text></g>
<line x1="928.20" y1="1819.28" x2="942.10" y2="1819.28" stroke="#000" stroke-width="2.2" />
<g transform="translate(881.40,1829.19)"><text font-size="28.00" font-weight="bold" fill="#000">0.2</text></g>
<line x1="1041.50" y1="1919.30" x2="1041.50" y2="1934.30" stroke="#000" stroke-width="2.2" />
<g transform="translate(1021.44,1965.00)"><text font-size="28.00" font-weight="bold" fill="#000">0.2</text></g>
<line x1="928.20" y1="1736.16" x2="942.10" y2="1736.16" stroke="#000" stroke-width="2.2" />
<g transform="translate(880.43,1746.07)"><text font-size="28.00" font-weight="bold" fill="#000">0.4</text></g>
<line x1="1124.20" y1="1919.30" x2="1124.20" y2="1934.30" stroke="#000" stroke-width="2.2" />
<g transform="translate(1104.36,1965.00)"><text font-size="28.00" font-weight="bold" fill="#000">0.4</text></g>
<line x1="928.20" y1="1653.04" x2="942.10" y2="1653.04" stroke="#000" stroke-width="2.2" />
<g transform="translate(881.29,1662.95)"><text font-size="28.00" font-weight="bold" fill="#000">0.6</text></g>
<line x1="1206.90" y1="1919.30" x2="1206.90" y2="1934.30" stroke="#000" stroke-width="2.2" />
<g transform="translate(1186.49,1962.70)"><text font-size="28.00" font-weight="bold" fill="#000">0.6</text></g>
<line x1="928.20" y1="1569.92" x2="942.10" y2="1569.92" stroke="#000" stroke-width="2.2" />
<g transform="translate(881.14,1579.83)"><text font-size="28.00" font-weight="bold" fill="#000">0.8</text></g>
<line x1="1289.60" y1="1919.30" x2="1289.60" y2="1934.30" stroke="#000" stroke-width="2.2" />
<g transform="translate(1271.52,1965.00)"><text font-size="28.00" font-weight="bold" fill="#000">0.8</text></g>
<line x1="928.20" y1="1486.80" x2="942.10" y2="1486.80" stroke="#000" stroke-width="2.2" />
<g transform="translate(881.42,1496.71)"><text font-size="28.00" font-weight="bold" fill="#000" mask="url(#m17)">1.0</text></g>
<line x1="1372.30" y1="1919.30" x2="1372.30" y2="1934.30" stroke="#000" stroke-width="2.2" />
<g transform="translate(1353.86,1962.70)"><text font-size="28.00" font-weight="bold" fill="#000" mask="url(#m18)">1.0</text></g>
<g transform="translate(1111.53,2012.50) scale(1.0011,1)"><text font-size="36.90" font-weight="bold" fill="#000">Rank</text></g>
<g transform="translate(858.50,1896.20) rotate(-90) scale(1.0103,1)"><text font-size="37.00" font-weight="bold" fill="#000">Fraction of 25 Samples</text></g>
<defs><mask id="m0" maskUnits="userSpaceOnUse" x="-2000" y="-2000" width="6000" height="4000"><rect x="-2000" y="-2000" width="6000" height="4000" fill="#fff"/><path d="M118.78,-4.71H125.96V3.32H118.78ZM130.82,-4.71H136.71V3.32H130.82Z" fill="#000"/></mask><mask id="m1" maskUnits="userSpaceOnUse" x="-2000" y="-2000" width="6000" height="4000"><rect x="-2000" y="-2000" width="6000" height="4000" fill="#fff"/><path d="M0.65,-4.60H7.65V3.24H0.65ZM12.40,-4.60H18.16V3.24H12.40Z" fill="#000"/></mask><mask id="m2" maskUnits="userSpaceOnUse" x="-2000" y="-2000" width="6000" height="4000"><rect x="-2000" y="-2000" width="6000" height="4000" fill="#fff"/><path d="M0.65,-4.60H7.65V3.24H0.65ZM12.40,-4.60H18.16V3.24H12.40Z" fill="#000"/></mask><mask id="m3" maskUnits="userSpaceOnUse" x="-2000" y="-2000" width="6000" height="4000"><rect x="-2000" y="-2000" width="6000" height="4000" fill="#fff"/><path d="M90.08,-6.02H99.24V4.24H90.08ZM105.45,-6.02H112.97V4.24H105.45Z" fill="#000"/></mask><mask id="m4" maskUnits="userSpaceOnUse" x="-2000" y="-2000" width="6000" height="4000"><rect x="-2000" y="-2000" width="6000" height="4000" fill="#fff"/><path d="M90.08,-6.02H99.24V4.24H90.08ZM105.45,-6.02H112.97V4.24H105.45Z" fill="#000"/></mask><mask id="m5" maskUnits="userSpaceOnUse" x="-2000" y="-2000" width="6000" height="4000"><rect x="-2000" y="-2000" width="6000" height="4000" fill="#fff"/><path d="M63.81,-3.40H68.98V2.39H63.81ZM72.48,-3.40H76.73V2.39H72.48Z" fill="#000"/></mask><mask id="m6" maskUnits="userSpaceOnUse" x="-2000" y="-2000" width="6000" height="4000"><rect x="-2000" y="-2000" width="6000" height="4000" fill="#fff"/><path d="M0.59,-4.17H6.94V2.94H0.59ZM11.24,-4.17H16.46V2.94H11.24Z" fill="#000"/></mask><mask id="m7" maskUnits="userSpaceOnUse" x="-2000" y="-2000" width="6000" height="4000"><rect x="-2000" y="-2000" width="6000" height="4000" fill="#fff"/><path d="M0.59,-4.17H6.94V2.94H0.59ZM11.24,-4.17H16.46V2.94H11.24Z" fill="#000"/></mask><mask id="m8" maskUnits="userSpaceOnUse" x="-2000" y="-2000" width="6000" height="4000"><rect x="-2000" y="-2000" width="6000" height="4000" fill="#fff"/><path d="M0.55,-3.91H6.50V2.75H0.55ZM10.53,-3.91H15.42V2.75H10.53Z" fill="#000"/></mask><mask id="m9" maskUnits="userSpaceOnUse" x="-2000" y="-2000" width="6000" height="4000"><rect x="-2000" y="-2000" width="6000" height="4000" fill="#fff"/><path d="M77.84,-5.20H85.75V3.66H77.84ZM91.11,-5.20H97.61V3.66H91.11Z" fill="#000"/></mask><mask id="m10" maskUnits="userSpaceOnUse" x="-2000" y="-2000" width="6000" height="4000"><rect x="-2000" y="-2000" width="6000" height="4000" fill="#fff"/><path d="M0.55,-3.91H6.50V2.75H0.55ZM10.53,-3.91H15.42V2.75H10.53Z" fill="#000"/></mask><mask id="m11" maskUnits="userSpaceOnUse" x="-2000" y="-2000" width="6000" height="4000"><rect x="-2000" y="-2000" width="6000" height="4000" fill="#fff"/><path d="M77.84,-5.20H85.75V3.66H77.84ZM91.11,-5.20H97.61V3.66H91.11Z" fill="#000"/></mask><filter id="f0" x="-5%" y="-5%" width="110%" height="110%"><feGaussianBlur stdDeviation="1.2 1.0"/></filter><linearGradient id="g0"><stop offset="0.000" stop-opacity="0.821"/><stop offset="0.062" stop-opacity="0.742"/><stop offset="0.125" stop-opacity="0.680"/><stop offset="0.188" stop-opacity="0.584"/><stop offset="0.250" stop-opacity="0.390"/><stop offset="0.312" stop-opacity="0.232"/><stop offset="0.375" stop-opacity="0.137"/><stop offset="0.438" stop-opacity="0.092"/><stop offset="0.500" stop-opacity="0.072"/><stop offset="0.562" stop-opacity="0.054"/><stop offset="0.625" stop-opacity="0.040"/><stop offset="0.688" stop-opacity="0.030"/><stop offset="0.750" stop-opacity="0.022"/><stop offset="0.812" stop-opacity="0.016"/><stop offset="0.875" stop-opacity="0.012"/><stop offset="0.938" stop-opacity="0.009"/><stop offset="1.000" stop-opacity="0.007"/></linearGradient><linearGradient id="g1"><stop offset="0.000" stop-opacity="0.013"/><stop offset="0.062" stop-opacity="0.634"/><stop offset="0.125" stop-opacity="0.750"/><stop offset="0.188" stop-opacity="0.756"/><stop offset="0.250" stop-opacity="0.718"/><stop offset="0.312" stop-opacity="0.668"/><stop offset="0.375" stop-opacity="0.610"/><stop offset="0.438" stop-opacity="0.419"/><stop offset="0.500" stop-opacity="0.230"/><stop offset="0.562" stop-opacity="0.120"/><stop offset="0.625" stop-opacity="0.079"/><stop offset="0.688" stop-opacity="0.054"/><stop offset="0.750" stop-opacity="0.036"/><stop offset="0.812" stop-opacity="0.024"/><stop offset="0.875" stop-opacity="0.015"/><stop offset="0.938" stop-opacity="0.010"/><stop offset="1.000" stop-opacity="0.006"/></linearGradient><linearGradient id="g2"><stop offset="0.000" stop-opacity="0.000"/><stop offset="0.062" stop-opacity="0.111"/><stop offset="0.125" stop-opacity="0.573"/><stop offset="0.188" stop-opacity="0.643"/><stop offset="0.250" stop-opacity="0.653"/><stop offset="0.312" stop-opacity="0.626"/><stop offset="0.375" stop-opacity="0.584"/><stop offset="0.438" stop-opacity="0.539"/><stop offset="0.500" stop-opacity="0.378"/><stop offset="0.562" stop-opacity="0.198"/><stop offset="0.625" stop-opacity="0.097"/><stop offset="0.688" stop-opacity="0.063"/><stop offset="0.750" stop-opacity="0.040"/><stop offset="0.812" stop-opacity="0.025"/><stop offset="0.875" stop-opacity="0.015"/><stop offset="0.938" stop-opacity="0.009"/><stop offset="1.000" stop-opacity="0.005"/></linearGradient><linearGradient id="g3"><stop offset="0.000" stop-opacity="0.000"/><stop offset="0.062" stop-opacity="0.071"/><stop offset="0.125" stop-opacity="0.486"/><stop offset="0.188" stop-opacity="0.565"/><stop offset="0.250" stop-opacity="0.597"/><stop offset="0.312" stop-opacity="0.589"/><stop offset="0.375" stop-opacity="0.558"/><stop offset="0.438" stop-opacity="0.517"/><stop offset="0.500" stop-opacity="0.446"/><stop offset="0.562" stop-opacity="0.263"/><stop offset="0.625" stop-opacity="0.124"/><stop offset="0.688" stop-opacity="0.066"/><stop offset="0.750" stop-opacity="0.043"/><stop offset="0.812" stop-opacity="0.026"/><stop offset="0.875" stop-opacity="0.015"/><stop offset="0.938" stop-opacity="0.009"/><stop offset="1.000" stop-opacity="0.005"/></linearGradient><linearGradient id="g4"><stop offset="0.000" stop-opacity="0.001"/><stop offset="0.062" stop-opacity="0.048"/><stop offset="0.125" stop-opacity="0.337"/><stop offset="0.188" stop-opacity="0.504"/><stop offset="0.250" stop-opacity="0.550"/><stop offset="0.312" stop-opacity="0.560"/><stop offset="0.375" stop-opacity="0.540"/><stop offset="0.438" stop-opacity="0.505"/><stop offset="0.500" stop-opacity="0.466"/><stop offset="0.562" stop-opacity="0.329"/><stop offset="0.625" stop-opacity="0.163"/><stop offset="0.688" stop-opacity="0.076"/><stop offset="0.750" stop-opacity="0.048"/><stop offset="0.812" stop-opacity="0.028"/><stop offset="0.875" stop-opacity="0.016"/><stop offset="0.938" stop-opacity="0.009"/><stop offset="1.000" stop-opacity="0.005"/></linearGradient><linearGradient id="g5"><stop offset="0.000" stop-opacity="0.002"/><stop offset="0.062" stop-opacity="0.038"/><stop offset="0.125" stop-opacity="0.235"/><stop offset="0.188" stop-opacity="0.462"/><stop offset="0.250" stop-opacity="0.513"/><stop offset="0.312" stop-opacity="0.533"/><stop offset="0.375" stop-opacity="0.522"/><stop offset="0.438" stop-opacity="0.492"/><stop offset="0.500" stop-opacity="0.455"/><stop offset="0.562" stop-opacity="0.364"/><stop offset="0.625" stop-opacity="0.191"/><stop offset="0.688" stop-opacity="0.084"/><stop offset="0.750" stop-opacity="0.050"/><stop offset="0.812" stop-opacity="0.029"/><stop offset="0.875" stop-opacity="0.016"/><stop offset="0.938" stop-opacity="0.008"/><stop offset="1.000" stop-opacity="0.004"/></linearGradient><linearGradient id="g6"><stop offset="0.000" stop-opacity="0.002"/><stop offset="0.062" stop-opacity="0.028"/><stop offset="0.125" stop-opacity="0.154"/><stop offset="0.188" stop-opacity="0.428"/><stop offset="0.250" stop-opacity="0.481"/><stop offset="0.312" stop-opacity="0.510"/><stop offset="0.375" stop-opacity="0.508"/><stop offset="0.438" stop-opacity="0.483"/><stop offset="0.500" stop-opacity="0.447"/><stop offset="0.562" stop-opacity="0.390"/><stop offset="0.625" stop-opacity="0.221"/><stop offset="0.688" stop-opacity="0.095"/><stop offset="0.750" stop-opacity="0.052"/><stop offset="0.812" stop-opacity="0.030"/><stop offset="0.875" stop-opacity="0.016"/><stop offset="0.938" stop-opacity="0.008"/><stop offset="1.000" stop-opacity="0.004"/></linearGradient><linearGradient id="g7"><stop offset="0.000" stop-opacity="0.003"/><stop offset="0.062" stop-opacity="0.028"/><stop offset="0.125" stop-opacity="0.134"/><stop offset="0.188" stop-opacity="0.405"/><stop offset="0.250" stop-opacity="0.459"/><stop offset="0.312" stop-opacity="0.490"/><stop offset="0.375" stop-opacity="0.493"/><stop offset="0.438" stop-opacity="0.473"/><stop offset="0.500" stop-opacity="0.439"/><stop offset="0.562" stop-opacity="0.398"/><stop offset="0.625" stop-opacity="0.243"/><stop offset="0.688" stop-opacity="0.106"/><stop offset="0.750" stop-opacity="0.053"/><stop offset="0.812" stop-opacity="0.031"/><stop offset="0.875" stop-opacity="0.016"/><stop offset="0.938" stop-opacity="0.008"/><stop offset="1.000" stop-opacity="0.004"/></linearGradient><linearGradient id="g8"><stop offset="0.000" stop-opacity="0.002"/><stop offset="0.062" stop-opacity="0.023"/><stop offset="0.125" stop-opacity="0.099"/><stop offset="0.188" stop-opacity="0.364"/><stop offset="0.250" stop-opacity="0.437"/><stop offset="0.312" stop-opacity="0.472"/><stop offset="0.375" stop-opacity="0.481"/><stop offset="0.438" stop-opacity="0.465"/><stop offset="0.500" stop-opacity="0.434"/><stop offset="0.562" stop-opacity="0.399"/><stop offset="0.625" stop-opacity="0.266"/><stop offset="0.688" stop-opacity="0.118"/><stop offset="0.750" stop-opacity="0.054"/><stop offset="0.812" stop-opacity="0.032"/><stop offset="0.875" stop-opacity="0.017"/><stop offset="0.938" stop-opacity="0.008"/><stop offset="1.000" stop-opacity="0.004"/></linearGradient><linearGradient id="g9"><stop offset="0.000" stop-opacity="0.003"/><stop offset="0.062" stop-opacity="0.021"/><stop offset="0.125" stop-opacity="0.083"/><stop offset="0.188" stop-opacity="0.327"/><stop offset="0.250" stop-opacity="0.419"/><stop offset="0.312" stop-opacity="0.456"/><stop offset="0.375" stop-opacity="0.469"/><stop offset="0.438" stop-opacity="0.458"/><stop offset="0.500" stop-opacity="0.429"/><stop offset="0.562" stop-opacity="0.395"/><stop offset="0.625" stop-opacity="0.287"/><stop offset="0.688" stop-opacity="0.132"/><stop offset="0.750" stop-opacity="0.057"/><stop offset="0.812" stop-opacity="0.033"/><stop offset="0.875" stop-opacity="0.017"/><stop offset="0.938" stop-opacity="0.008"/><stop offset="1.000" stop-opacity="0.004"/></linearGradient><linearGradient id="g10"><stop offset="0.000" stop-opacity="0.003"/><stop offset="0.062" stop-opacity="0.019"/><stop offset="0.125" stop-opacity="0.069"/><stop offset="0.188" stop-opacity="0.289"/><stop offset="0.250" stop-opacity="0.404"/><stop offset="0.312" stop-opacity="0.442"/><stop offset="0.375" stop-opacity="0.459"/><stop offset="0.438" stop-opacity="0.451"/><stop offset="0.500" stop-opacity="0.425"/><stop offset="0.562" stop-opacity="0.391"/><stop offset="0.625" stop-opacity="0.303"/><stop offset="0.688" stop-opacity="0.144"/><stop offset="0.750" stop-opacity="0.059"/><stop offset="0.812" stop-opacity="0.034"/><stop offset="0.875" stop-opacity="0.018"/><stop offset="0.938" stop-opacity="0.009"/><stop offset="1.000" stop-opacity="0.004"/></linearGradient><linearGradient id="g11"><stop offset="0.000" stop-opacity="0.003"/><stop offset="0.062" stop-opacity="0.019"/><stop offset="0.125" stop-opacity="0.065"/><stop offset="0.188" stop-opacity="0.268"/><stop offset="0.250" stop-opacity="0.392"/><stop offset="0.312" stop-opacity="0.431"/><stop offset="0.375" stop-opacity="0.449"/><stop offset="0.438" stop-opacity="0.444"/><stop offset="0.500" stop-opacity="0.420"/><stop offset="0.562" stop-opacity="0.387"/><stop offset="0.625" stop-opacity="0.311"/><stop offset="0.688" stop-opacity="0.151"/><stop offset="0.750" stop-opacity="0.061"/><stop offset="0.812" stop-opacity="0.034"/><stop offset="0.875" stop-opacity="0.018"/><stop offset="0.938" stop-opacity="0.008"/><stop offset="1.000" stop-opacity="0.004"/></linearGradient><linearGradient id="g12"><stop offset="0.000" stop-opacity="0.003"/><stop offset="0.062" stop-opacity="0.018"/><stop offset="0.125" stop-opacity="0.060"/><stop offset="0.188" stop-opacity="0.244"/><stop offset="0.250" stop-opacity="0.381"/><stop offset="0.312" stop-opacity="0.420"/><stop offset="0.375" stop-opacity="0.441"/><stop offset="0.438" stop-opacity="0.438"/><stop offset="0.500" stop-opacity="0.416"/><stop offset="0.562" stop-opacity="0.385"/><stop offset="0.625" stop-opacity="0.324"/><stop offset="0.688" stop-opacity="0.165"/><stop offset="0.750" stop-opacity="0.065"/><stop offset="0.812" stop-opacity="0.036"/><stop offset="0.875" stop-opacity="0.018"/><stop offset="0.938" stop-opacity="0.009"/><stop offset="1.000" stop-opacity="0.004"/></linearGradient><linearGradient id="g13"><stop offset="0.000" stop-opacity="0.003"/><stop offset="0.062" stop-opacity="0.017"/><stop offset="0.125" stop-opacity="0.055"/><stop offset="0.188" stop-opacity="0.220"/><stop offset="0.250" stop-opacity="0.371"/><stop offset="0.312" stop-opacity="0.410"/><stop offset="0.375" stop-opacity="0.433"/><stop offset="0.438" stop-opacity="0.433"/><stop offset="0.500" stop-opacity="0.413"/><stop offset="0.562" stop-opacity="0.383"/><stop offset="0.625" stop-opacity="0.332"/><stop offset="0.688" stop-opacity="0.177"/><stop offset="0.750" stop-opacity="0.069"/><stop offset="0.812" stop-opacity="0.037"/><stop offset="0.875" stop-opacity="0.019"/><stop offset="0.938" stop-opacity="0.009"/><stop offset="1.000" stop-opacity="0.004"/></linearGradient><linearGradient id="g14"><stop offset="0.000" stop-opacity="0.003"/><stop offset="0.062" stop-opacity="0.016"/><stop offset="0.125" stop-opacity="0.050"/><stop offset="0.188" stop-opacity="0.198"/><stop offset="0.250" stop-opacity="0.362"/><stop offset="0.312" stop-opacity="0.401"/><stop offset="0.375" stop-opacity="0.425"/><stop offset="0.438" stop-opacity="0.428"/><stop offset="0.500" stop-opacity="0.410"/><stop offset="0.562" stop-opacity="0.381"/><stop offset="0.625" stop-opacity="0.338"/><stop offset="0.688" stop-opacity="0.187"/><stop offset="0.750" stop-opacity="0.073"/><stop offset="0.812" stop-opacity="0.038"/><stop offset="0.875" stop-opacity="0.019"/><stop offset="0.938" stop-opacity="0.009"/><stop offset="1.000" stop-opacity="0.004"/></linearGradient><linearGradient id="g15"><stop offset="0.000" stop-opacity="0.003"/><stop offset="0.062" stop-opacity="0.015"/><stop offset="0.125" stop-opacity="0.047"/><stop offset="0.188" stop-opacity="0.176"/><stop offset="0.250" stop-opacity="0.353"/><stop offset="0.312" stop-opacity="0.392"/><stop offset="0.375" stop-opacity="0.418"/><stop offset="0.438" stop-opacity="0.423"/><stop offset="0.500" stop-opacity="0.407"/><stop offset="0.562" stop-opacity="0.379"/><stop offset="0.625" stop-opacity="0.342"/><stop offset="0.688" stop-opacity="0.197"/><stop offset="0.750" stop-opacity="0.076"/><stop offset="0.812" stop-opacity="0.038"/><stop offset="0.875" stop-opacity="0.019"/><stop offset="0.938" stop-opacity="0.009"/><stop offset="1.000" stop-opacity="0.004"/></linearGradient><linearGradient id="g16"><stop offset="0.000" stop-opacity="0.003"/><stop offset="0.062" stop-opacity="0.015"/><stop offset="0.125" stop-opacity="0.046"/><stop offset="0.188" stop-opacity="0.168"/><stop offset="0.250" stop-opacity="0.347"/><stop offset="0.312" stop-opacity="0.386"/><stop offset="0.375" stop-opacity="0.412"/><stop offset="0.438" stop-opacity="0.419"/><stop offset="0.500" stop-opacity="0.404"/><stop offset="0.562" stop-opacity="0.376"/><stop offset="0.625" stop-opacity="0.342"/><stop offset="0.688" stop-opacity="0.201"/><stop offset="0.750" stop-opacity="0.078"/><stop offset="0.812" stop-opacity="0.039"/><stop offset="0.875" stop-opacity="0.019"/><stop offset="0.938" stop-opacity="0.009"/><stop offset="1.000" stop-opacity="0.004"/></linearGradient><linearGradient id="g17"><stop offset="0.000" stop-opacity="0.003"/><stop offset="0.062" stop-opacity="0.015"/><stop offset="0.125" stop-opacity="0.044"/><stop offset="0.188" stop-opacity="0.157"/><stop offset="0.250" stop-opacity="0.340"/><stop offset="0.312" stop-opacity="0.379"/><stop offset="0.375" stop-opacity="0.407"/><stop offset="0.438" stop-opacity="0.414"/><stop offset="0.500" stop-opacity="0.402"/><stop offset="0.562" stop-opacity="0.375"/><stop offset="0.625" stop-opacity="0.343"/><stop offset="0.688" stop-opacity="0.213"/><stop offset="0.750" stop-opacity="0.083"/><stop offset="0.812" stop-opacity="0.040"/><stop offset="0.875" stop-opacity="0.020"/><stop offset="0.938" stop-opacity="0.009"/><stop offset="1.000" stop-opacity="0.004"/></linearGradient><linearGradient id="g18"><stop offset="0.000" stop-opacity="0.003"/><stop offset="0.062" stop-opacity="0.013"/><stop offset="0.125" stop-opacity="0.042"/><stop offset="0.188" stop-opacity="0.138"/><stop offset="0.250" stop-opacity="0.328"/><stop offset="0.312" stop-opacity="0.372"/><stop offset="0.375" stop-opacity="0.401"/><stop offset="0.438" stop-opacity="0.411"/><stop offset="0.500" stop-opacity="0.400"/><stop offset="0.562" stop-opacity="0.374"/><stop offset="0.625" stop-opacity="0.342"/><stop offset="0.688" stop-opacity="0.219"/><stop offset="0.750" stop-opacity="0.085"/><stop offset="0.812" stop-opacity="0.040"/><stop offset="0.875" stop-opacity="0.019"/><stop offset="0.938" stop-opacity="0.009"/><stop offset="1.000" stop-opacity="0.003"/></linearGradient><linearGradient id="g19"><stop offset="0.000" stop-opacity="0.003"/><stop offset="0.062" stop-opacity="0.014"/><stop offset="0.125" stop-opacity="0.042"/><stop offset="0.188" stop-opacity="0.137"/><stop offset="0.250" stop-opacity="0.323"/><stop offset="0.312" stop-opacity="0.368"/><stop offset="0.375" stop-opacity="0.397"/><stop offset="0.438" stop-opacity="0.407"/><stop offset="0.500" stop-opacity="0.397"/><stop offset="0.562" stop-opacity="0.372"/><stop offset="0.625" stop-opacity="0.340"/><stop offset="0.688" stop-opacity="0.224"/><stop offset="0.750" stop-opacity="0.088"/><stop offset="0.812" stop-opacity="0.041"/><stop offset="0.875" stop-opacity="0.020"/><stop offset="0.938" stop-opacity="0.009"/><stop offset="1.000" stop-opacity="0.003"/></linearGradient><linearGradient id="g20"><stop offset="0.000" stop-opacity="0.003"/><stop offset="0.062" stop-opacity="0.013"/><stop offset="0.125" stop-opacity="0.040"/><stop offset="0.188" stop-opacity="0.126"/><stop offset="0.250" stop-opacity="0.312"/><stop offset="0.312" stop-opacity="0.363"/><stop offset="0.375" stop-opacity="0.392"/><stop offset="0.438" stop-opacity="0.404"/><stop offset="0.500" stop-opacity="0.395"/><stop offset="0.562" stop-opacity="0.371"/><stop offset="0.625" stop-opacity="0.340"/><stop offset="0.688" stop-opacity="0.233"/><stop offset="0.750" stop-opacity="0.092"/><stop offset="0.812" stop-opacity="0.041"/><stop offset="0.875" stop-opacity="0.020"/><stop offset="0.938" stop-opacity="0.009"/><stop offset="1.000" stop-opacity="0.003"/></linearGradient><linearGradient id="g21"><stop offset="0.000" stop-opacity="0.003"/><stop offset="0.062" stop-opacity="0.013"/><stop offset="0.125" stop-opacity="0.038"/><stop offset="0.188" stop-opacity="0.115"/><stop offset="0.250" stop-opacity="0.300"/><stop offset="0.312" stop-opacity="0.357"/><stop offset="0.375" stop-opacity="0.387"/><stop offset="0.438" stop-opacity="0.401"/><stop offset="0.500" stop-opacity="0.394"/><stop offset="0.562" stop-opacity="0.370"/><stop offset="0.625" stop-opacity="0.339"/><stop offset="0.688" stop-opacity="0.240"/><stop offset="0.750" stop-opacity="0.096"/><stop offset="0.812" stop-opacity="0.041"/><stop offset="0.875" stop-opacity="0.020"/><stop offset="0.938" stop-opacity="0.009"/><stop offset="1.000" stop-opacity="0.003"/></linearGradient><linearGradient id="g22"><stop offset="0.000" stop-opacity="0.003"/><stop offset="0.062" stop-opacity="0.013"/><stop offset="0.125" stop-opacity="0.037"/><stop offset="0.188" stop-opacity="0.111"/><stop offset="0.250" stop-opacity="0.293"/><stop offset="0.312" stop-opacity="0.353"/><stop offset="0.375" stop-opacity="0.383"/><stop offset="0.438" stop-opacity="0.398"/><stop offset="0.500" stop-opacity="0.392"/><stop offset="0.562" stop-opacity="0.370"/><stop offset="0.625" stop-opacity="0.339"/><stop offset="0.688" stop-opacity="0.250"/><stop offset="0.750" stop-opacity="0.103"/><stop offset="0.812" stop-opacity="0.042"/><stop offset="0.875" stop-opacity="0.021"/><stop offset="0.938" stop-opacity="0.009"/><stop offset="1.000" stop-opacity="0.003"/></linearGradient><linearGradient id="g23"><stop offset="0.000" stop-opacity="0.003"/><stop offset="0.062" stop-opacity="0.012"/><stop offset="0.125" stop-opacity="0.035"/><stop offset="0.188" stop-opacity="0.101"/><stop offset="0.250" stop-opacity="0.279"/><stop offset="0.312" stop-opacity="0.349"/><stop offset="0.375" stop-opacity="0.379"/><stop offset="0.438" stop-opacity="0.395"/><stop offset="0.500" stop-opacity="0.391"/><stop offset="0.562" stop-opacity="0.369"/><stop offset="0.625" stop-opacity="0.339"/><stop offset="0.688" stop-opacity="0.256"/><stop offset="0.750" stop-opacity="0.107"/><stop offset="0.812" stop-opacity="0.043"/><stop offset="0.875" stop-opacity="0.021"/><stop offset="0.938" stop-opacity="0.009"/><stop offset="1.000" stop-opacity="0.003"/></linearGradient><linearGradient id="g24"><stop offset="0.000" stop-opacity="0.003"/><stop offset="0.062" stop-opacity="0.012"/><stop offset="0.125" stop-opacity="0.035"/><stop offset="0.188" stop-opacity="0.097"/><stop offset="0.250" stop-opacity="0.271"/><stop offset="0.312" stop-opacity="0.345"/><stop offset="0.375" stop-opacity="0.376"/><stop offset="0.438" stop-opacity="0.392"/><stop offset="0.500" stop-opacity="0.389"/><stop offset="0.562" stop-opacity="0.369"/><stop offset="0.625" stop-opacity="0.339"/><stop offset="0.688" stop-opacity="0.265"/><stop offset="0.750" stop-opacity="0.113"/><stop offset="0.812" stop-opacity="0.044"/><stop offset="0.875" stop-opacity="0.022"/><stop offset="0.938" stop-opacity="0.009"/><stop offset="1.000" stop-opacity="0.003"/></linearGradient><linearGradient id="g25"><stop offset="0.000" stop-opacity="0.003"/><stop offset="0.062" stop-opacity="0.012"/><stop offset="0.125" stop-opacity="0.034"/><stop offset="0.188" stop-opacity="0.093"/><stop offset="0.250" stop-opacity="0.264"/><stop offset="0.312" stop-opacity="0.342"/><stop offset="0.375" stop-opacity="0.373"/><stop offset="0.438" stop-opacity="0.390"/><stop offset="0.500" stop-opacity="0.388"/><stop offset="0.562" stop-opacity="0.368"/><stop offset="0.625" stop-opacity="0.339"/><stop offset="0.688" stop-opacity="0.266"/><stop offset="0.750" stop-opacity="0.114"/><stop offset="0.812" stop-opacity="0.043"/><stop offset="0.875" stop-opacity="0.021"/><stop offset="0.938" stop-opacity="0.009"/><stop offset="1.000" stop-opacity="0.003"/></linearGradient><linearGradient id="g26"><stop offset="0.000" stop-opacity="0.003"/><stop offset="0.062" stop-opacity="0.012"/><stop offset="0.125" stop-opacity="0.033"/><stop offset="0.188" stop-opacity="0.088"/><stop offset="0.250" stop-opacity="0.255"/><stop offset="0.312" stop-opacity="0.339"/><stop offset="0.375" stop-opacity="0.370"/><stop offset="0.438" stop-opacity="0.388"/><stop offset="0.500" stop-opacity="0.387"/><stop offset="0.562" stop-opacity="0.368"/><stop offset="0.625" stop-opacity="0.339"/><stop offset="0.688" stop-opacity="0.273"/><stop offset="0.750" stop-opacity="0.120"/><stop offset="0.812" stop-opacity="0.044"/><stop offset="0.875" stop-opacity="0.022"/><stop offset="0.938" stop-opacity="0.009"/><stop offset="1.000" stop-opacity="0.003"/></linearGradient><linearGradient id="g27"><stop offset="0.000" stop-opacity="0.003"/><stop offset="0.062" stop-opacity="0.011"/><stop offset="0.125" stop-opacity="0.032"/><stop offset="0.188" stop-opacity="0.084"/><stop offset="0.250" stop-opacity="0.245"/><stop offset="0.312" stop-opacity="0.335"/><stop offset="0.375" stop-opacity="0.367"/><stop offset="0.438" stop-opacity="0.386"/><stop offset="0.500" stop-opacity="0.386"/><stop offset="0.562" stop-opacity="0.368"/><stop offset="0.625" stop-opacity="0.339"/><stop offset="0.688" stop-opacity="0.280"/><stop offset="0.750" stop-opacity="0.125"/><stop offset="0.812" stop-opacity="0.045"/><stop offset="0.875" stop-opacity="0.022"/><stop offset="0.938" stop-opacity="0.009"/><stop offset="1.000" stop-opacity="0.003"/></linearGradient><linearGradient id="g28"><stop offset="0.000" stop-opacity="0.003"/><stop offset="0.062" stop-opacity="0.011"/><stop offset="0.125" stop-opacity="0.031"/><stop offset="0.188" stop-opacity="0.079"/><stop offset="0.250" stop-opacity="0.235"/><stop offset="0.312" stop-opacity="0.332"/><stop offset="0.375" stop-opacity="0.364"/><stop offset="0.438" stop-opacity="0.384"/><stop offset="0.500" stop-opacity="0.385"/><stop offset="0.562" stop-opacity="0.368"/><stop offset="0.625" stop-opacity="0.340"/><stop offset="0.688" stop-opacity="0.286"/><stop offset="0.750" stop-opacity="0.131"/><stop offset="0.812" stop-opacity="0.046"/><stop offset="0.875" stop-opacity="0.023"/><stop offset="0.938" stop-opacity="0.009"/><stop offset="1.000" stop-opacity="0.003"/></linearGradient><linearGradient id="g29"><stop offset="0.000" stop-opacity="0.003"/><stop offset="0.062" stop-opacity="0.011"/><stop offset="0.125" stop-opacity="0.030"/><stop offset="0.188" stop-opacity="0.074"/><stop offset="0.250" stop-opacity="0.225"/><stop offset="0.312" stop-opacity="0.329"/><stop offset="0.375" stop-opacity="0.361"/><stop offset="0.438" stop-opacity="0.382"/><stop offset="0.500" stop-opacity="0.384"/><stop offset="0.562" stop-opacity="0.369"/><stop offset="0.625" stop-opacity="0.340"/><stop offset="0.688" stop-opacity="0.291"/><stop offset="0.750" stop-opacity="0.136"/><stop offset="0.812" stop-opacity="0.047"/><stop offset="0.875" stop-opacity="0.023"/><stop offset="0.938" stop-opacity="0.009"/><stop offset="1.000" stop-opacity="0.003"/></linearGradient><linearGradient id="g30"><stop offset="0.000" stop-opacity="0.003"/><stop offset="0.062" stop-opacity="0.011"/><stop offset="0.125" stop-opacity="0.030"/><stop offset="0.188" stop-opacity="0.074"/><stop offset="0.250" stop-opacity="0.223"/><stop offset="0.312" stop-opacity="0.328"/><stop offset="0.375" stop-opacity="0.359"/><stop offset="0.438" stop-opacity="0.380"/><stop offset="0.500" stop-opacity="0.384"/><stop offset="0.562" stop-opacity="0.368"/><stop offset="0.625" stop-opacity="0.340"/><stop offset="0.688" stop-opacity="0.293"/><stop offset="0.750" stop-opacity="0.138"/><stop offset="0.812" stop-opacity="0.048"/><stop offset="0.875" stop-opacity="0.023"/><stop offset="0.938" stop-opacity="0.009"/><stop offset="1.000" stop-opacity="0.003"/></linearGradient><linearGradient id="g31"><stop offset="0.000" stop-opacity="0.003"/><stop offset="0.062" stop-opacity="0.011"/><stop offset="0.125" stop-opacity="0.029"/><stop offset="0.188" stop-opacity="0.069"/><stop offset="0.250" stop-opacity="0.212"/><stop offset="0.312" stop-opacity="0.325"/><stop offset="0.375" stop-opacity="0.357"/><stop offset="0.438" stop-opacity="0.379"/><stop offset="0.500" stop-opacity="0.383"/><stop offset="0.562" stop-opacity="0.369"/><stop offset="0.625" stop-opacity="0.341"/><stop offset="0.688" stop-opacity="0.297"/><stop offset="0.750" stop-opacity="0.142"/><stop offset="0.812" stop-opacity="0.048"/><stop offset="0.875" stop-opacity="0.023"/><stop offset="0.938" stop-opacity="0.009"/><stop offset="1.000" stop-opacity="0.003"/></linearGradient><linearGradient id="g32"><stop offset="0.000" stop-opacity="0.003"/><stop offset="0.062" stop-opacity="0.011"/><stop offset="0.125" stop-opacity="0.028"/><stop offset="0.188" stop-opacity="0.067"/><stop offset="0.250" stop-opacity="0.206"/><stop offset="0.312" stop-opacity="0.323"/><stop offset="0.375" stop-opacity="0.355"/><stop offset="0.438" stop-opacity="0.377"/><stop offset="0.500" stop-opacity="0.383"/><stop offset="0.562" stop-opacity="0.369"/><stop offset="0.625" stop-opacity="0.342"/><stop offset="0.688" stop-opacity="0.303"/><stop offset="0.750" stop-opacity="0.151"/><stop offset="0.812" stop-opacity="0.051"/><stop offset="0.875" stop-opacity="0.024"/><stop offset="0.938" stop-opacity="0.010"/><stop offset="1.000" stop-opacity="0.003"/></linearGradient><linearGradient id="g33"><stop offset="0.000" stop-opacity="0.003"/><stop offset="0.062" stop-opacity="0.011"/><stop offset="0.125" stop-opacity="0.028"/><stop offset="0.188" stop-opacity="0.066"/><stop offset="0.250" stop-opacity="0.203"/><stop offset="0.312" stop-opacity="0.322"/><stop offset="0.375" stop-opacity="0.354"/><stop offset="0.438" stop-opacity="0.376"/><stop offset="0.500" stop-opacity="0.382"/><stop offset="0.562" stop-opacity="0.369"/><stop offset="0.625" stop-opacity="0.343"/><stop offset="0.688" stop-opacity="0.304"/><stop offset="0.750" stop-opacity="0.152"/><stop offset="0.812" stop-opacity="0.051"/><stop offset="0.875" stop-opacity="0.024"/><stop offset="0.938" stop-opacity="0.009"/><stop offset="1.000" stop-opacity="0.003"/></linearGradient><linearGradient id="g34"><stop offset="0.000" stop-opacity="0.003"/><stop offset="0.062" stop-opacity="0.010"/><stop offset="0.125" stop-opacity="0.027"/><stop offset="0.188" stop-opacity="0.061"/><stop offset="0.250" stop-opacity="0.189"/><stop offset="0.312" stop-opacity="0.319"/><stop offset="0.375" stop-opacity="0.351"/><stop offset="0.438" stop-opacity="0.374"/><stop offset="0.500" stop-opacity="0.382"/><stop offset="0.562" stop-opacity="0.370"/><stop offset="0.625" stop-opacity="0.345"/><stop offset="0.688" stop-opacity="0.310"/><stop offset="0.750" stop-opacity="0.163"/><stop offset="0.812" stop-opacity="0.054"/><stop offset="0.875" stop-opacity="0.025"/><stop offset="0.938" stop-opacity="0.010"/><stop offset="1.000" stop-opacity="0.003"/></linearGradient><linearGradient id="g35"><stop offset="0.000" stop-opacity="0.003"/><stop offset="0.062" stop-opacity="0.010"/><stop offset="0.125" stop-opacity="0.026"/><stop offset="0.188" stop-opacity="0.059"/><stop offset="0.250" stop-opacity="0.182"/><stop offset="0.312" stop-opacity="0.317"/><stop offset="0.375" stop-opacity="0.349"/><stop offset="0.438" stop-opacity="0.373"/><stop offset="0.500" stop-opacity="0.382"/><stop offset="0.562" stop-opacity="0.371"/><stop offset="0.625" stop-opacity="0.346"/><stop offset="0.688" stop-opacity="0.313"/><stop offset="0.750" stop-opacity="0.170"/><stop offset="0.812" stop-opacity="0.056"/><stop offset="0.875" stop-opacity="0.026"/><stop offset="0.938" stop-opacity="0.010"/><stop offset="1.000" stop-opacity="0.003"/></linearGradient><linearGradient id="g36"><stop offset="0.000" stop-opacity="0.003"/><stop offset="0.062" stop-opacity="0.010"/><stop offset="0.125" stop-opacity="0.026"/><stop offset="0.188" stop-opacity="0.058"/><stop offset="0.250" stop-opacity="0.178"/><stop offset="0.312" stop-opacity="0.316"/><stop offset="0.375" stop-opacity="0.348"/><stop offset="0.438" stop-opacity="0.373"/><stop offset="0.500" stop-opacity="0.382"/><stop offset="0.562" stop-opacity="0.372"/><stop offset="0.625" stop-opacity="0.346"/><stop offset="0.688" stop-opacity="0.314"/><stop offset="0.750" stop-opacity="0.171"/><stop offset="0.812" stop-opacity="0.055"/><stop offset="0.875" stop-opacity="0.025"/><stop offset="0.938" stop-opacity="0.010"/><stop offset="1.000" stop-opacity="0.003"/></linearGradient><linearGradient id="g37"><stop offset="0.000" stop-opacity="0.003"/><stop offset="0.062" stop-opacity="0.010"/><stop offset="0.125" stop-opacity="0.025"/><stop offset="0.188" stop-opacity="0.055"/><stop offset="0.250" stop-opacity="0.171"/><stop offset="0.312" stop-opacity="0.314"/><stop offset="0.375" stop-opacity="0.346"/><stop offset="0.438" stop-opacity="0.372"/><stop offset="0.500" stop-opacity="0.382"/><stop offset="0.562" stop-opacity="0.373"/><stop offset="0.625" stop-opacity="0.348"/><stop offset="0.688" stop-opacity="0.316"/><stop offset="0.750" stop-opacity="0.178"/><stop offset="0.812" stop-opacity="0.058"/><stop offset="0.875" stop-opacity="0.026"/><stop offset="0.938" stop-opacity="0.010"/><stop offset="1.000" stop-opacity="0.003"/></linearGradient><linearGradient id="g38"><stop offset="0.000" stop-opacity="0.003"/><stop offset="0.062" stop-opacity="0.010"/><stop offset="0.125" stop-opacity="0.026"/><stop offset="0.188" stop-opacity="0.056"/><stop offset="0.250" stop-opacity="0.170"/><stop offset="0.312" stop-opacity="0.313"/><stop offset="0.375" stop-opacity="0.346"/><stop offset="0.438" stop-opacity="0.371"/><stop offset="0.500" stop-opacity="0.382"/><stop offset="0.562" stop-opacity="0.373"/><stop offset="0.625" stop-opacity="0.349"/><stop offset="0.688" stop-opacity="0.317"/><stop offset="0.750" stop-opacity="0.182"/><stop offset="0.812" stop-opacity="0.059"/><stop offset="0.875" stop-opacity="0.026"/><stop offset="0.938" stop-opacity="0.010"/><stop offset="1.000" stop-opacity="0.003"/></linearGradient><linearGradient id="g39"><stop offset="0.000" stop-opacity="0.003"/><stop offset="0.062" stop-opacity="0.010"/><stop offset="0.125" stop-opacity="0.025"/><stop offset="0.188" stop-opacity="0.054"/><stop offset="0.250" stop-opacity="0.163"/><stop offset="0.312" stop-opacity="0.310"/><stop offset="0.375" stop-opacity="0.345"/><stop offset="0.438" stop-opacity="0.370"/><stop offset="0.500" stop-opacity="0.382"/><stop offset="0.562" stop-opacity="0.374"/><stop offset="0.625" stop-opacity="0.351"/><stop offset="0.688" stop-opacity="0.319"/><stop offset="0.750" stop-opacity="0.189"/><stop offset="0.812" stop-opacity="0.061"/><stop offset="0.875" stop-opacity="0.027"/><stop offset="0.938" stop-opacity="0.010"/><stop offset="1.000" stop-opacity="0.003"/></linearGradient><linearGradient id="g40"><stop offset="0.000" stop-opacity="0.003"/><stop offset="0.062" stop-opacity="0.009"/><stop offset="0.125" stop-opacity="0.024"/><stop offset="0.188" stop-opacity="0.051"/><stop offset="0.250" stop-opacity="0.152"/><stop offset="0.312" stop-opacity="0.304"/><stop offset="0.375" stop-opacity="0.343"/><stop offset="0.438" stop-opacity="0.369"/><stop offset="0.500" stop-opacity="0.382"/><stop offset="0.562" stop-opacity="0.376"/><stop offset="0.625" stop-opacity="0.354"/><stop offset="0.688" stop-opacity="0.322"/><stop offset="0.750" stop-opacity="0.203"/><stop offset="0.812" stop-opacity="0.066"/><stop offset="0.875" stop-opacity="0.028"/><stop offset="0.938" stop-opacity="0.011"/><stop offset="1.000" stop-opacity="0.003"/></linearGradient><linearGradient id="g41"><stop offset="0.000" stop-opacity="0.003"/><stop offset="0.062" stop-opacity="0.010"/><stop offset="0.125" stop-opacity="0.024"/><stop offset="0.188" stop-opacity="0.051"/><stop offset="0.250" stop-opacity="0.151"/><stop offset="0.312" stop-opacity="0.303"/><stop offset="0.375" stop-opacity="0.342"/><stop offset="0.438" stop-opacity="0.369"/><stop offset="0.500" stop-opacity="0.383"/><stop offset="0.562" stop-opacity="0.377"/><stop offset="0.625" stop-opacity="0.355"/><stop offset="0.688" stop-opacity="0.323"/><stop offset="0.750" stop-opacity="0.206"/><stop offset="0.812" stop-opacity="0.067"/><stop offset="0.875" stop-opacity="0.028"/><stop offset="0.938" stop-opacity="0.011"/><stop offset="1.000" stop-opacity="0.003"/></linearGradient><linearGradient id="g42"><stop offset="0.000" stop-opacity="0.003"/><stop offset="0.062" stop-opacity="0.009"/><stop offset="0.125" stop-opacity="0.023"/><stop offset="0.188" stop-opacity="0.048"/><stop offset="0.250" stop-opacity="0.142"/><stop offset="0.312" stop-opacity="0.297"/><stop offset="0.375" stop-opacity="0.341"/><stop offset="0.438" stop-opacity="0.369"/><stop offset="0.500" stop-opacity="0.383"/><stop offset="0.562" stop-opacity="0.379"/><stop offset="0.625" stop-opacity="0.357"/><stop offset="0.688" stop-opacity="0.325"/><stop offset="0.750" stop-opacity="0.212"/><stop offset="0.812" stop-opacity="0.069"/><stop offset="0.875" stop-opacity="0.029"/><stop offset="0.938" stop-opacity="0.011"/><stop offset="1.000" stop-opacity="0.003"/></linearGradient><linearGradient id="g43"><stop offset="0.000" stop-opacity="0.003"/><stop offset="0.062" stop-opacity="0.009"/><stop offset="0.125" stop-opacity="0.023"/><stop offset="0.188" stop-opacity="0.048"/><stop offset="0.250" stop-opacity="0.138"/><stop offset="0.312" stop-opacity="0.293"/><stop offset="0.375" stop-opacity="0.340"/><stop offset="0.438" stop-opacity="0.368"/><stop offset="0.500" stop-opacity="0.384"/><stop offset="0.562" stop-opacity="0.380"/><stop offset="0.625" stop-opacity="0.359"/><stop offset="0.688" stop-opacity="0.328"/><stop offset="0.750" stop-opacity="0.223"/><stop offset="0.812" stop-opacity="0.074"/><stop offset="0.875" stop-opacity="0.030"/><stop offset="0.938" stop-opacity="0.011"/><stop offset="1.000" stop-opacity="0.003"/></linearGradient><linearGradient id="g44"><stop offset="0.000" stop-opacity="0.003"/><stop offset="0.062" stop-opacity="0.009"/><stop offset="0.125" stop-opacity="0.023"/><stop offset="0.188" stop-opacity="0.047"/><stop offset="0.250" stop-opacity="0.136"/><stop offset="0.312" stop-opacity="0.291"/><stop offset="0.375" stop-opacity="0.340"/><stop offset="0.438" stop-opacity="0.369"/><stop offset="0.500" stop-opacity="0.384"/><stop offset="0.562" stop-opacity="0.382"/><stop offset="0.625" stop-opacity="0.361"/><stop offset="0.688" stop-opacity="0.329"/><stop offset="0.750" stop-opacity="0.225"/><stop offset="0.812" stop-opacity="0.074"/><stop offset="0.875" stop-opacity="0.030"/><stop offset="0.938" stop-opacity="0.011"/><stop offset="1.000" stop-opacity="0.003"/></linearGradient><linearGradient id="g45"><stop offset="0.000" stop-opacity="0.003"/><stop offset="0.062" stop-opacity="0.009"/><stop offset="0.125" stop-opacity="0.023"/><stop offset="0.188" stop-opacity="0.046"/><stop offset="0.250" stop-opacity="0.131"/><stop offset="0.312" stop-opacity="0.286"/><stop offset="0.375" stop-opacity="0.340"/><stop offset="0.438" stop-opacity="0.368"/><stop offset="0.500" stop-opacity="0.385"/><stop offset="0.562" stop-opacity="0.384"/><stop offset="0.625" stop-opacity="0.364"/><stop offset="0.688" stop-opacity="0.332"/><stop offset="0.750" stop-opacity="0.235"/><stop offset="0.812" stop-opacity="0.079"/><stop offset="0.875" stop-opacity="0.031"/><stop offset="0.938" stop-opacity="0.011"/><stop offset="1.000" stop-opacity="0.003"/></linearGradient><linearGradient id="g46"><stop offset="0.000" stop-opacity="0.003"/><stop offset="0.062" stop-opacity="0.009"/><stop offset="0.125" stop-opacity="0.022"/><stop offset="0.188" stop-opacity="0.045"/><stop offset="0.250" stop-opacity="0.125"/><stop offset="0.312" stop-opacity="0.280"/><stop offset="0.375" stop-opacity="0.339"/><stop offset="0.438" stop-opacity="0.368"/><stop offset="0.500" stop-opacity="0.386"/><stop offset="0.562" stop-opacity="0.386"/><stop offset="0.625" stop-opacity="0.367"/><stop offset="0.688" stop-opacity="0.335"/><stop offset="0.750" stop-opacity="0.245"/><stop offset="0.812" stop-opacity="0.084"/><stop offset="0.875" stop-opacity="0.032"/><stop offset="0.938" stop-opacity="0.011"/><stop offset="1.000" stop-opacity="0.003"/></linearGradient><linearGradient id="g47"><stop offset="0.000" stop-opacity="0.003"/><stop offset="0.062" stop-opacity="0.009"/><stop offset="0.125" stop-opacity="0.022"/><stop offset="0.188" stop-opacity="0.044"/><stop offset="0.250" stop-opacity="0.120"/><stop offset="0.312" stop-opacity="0.273"/><stop offset="0.375" stop-opacity="0.339"/><stop offset="0.438" stop-opacity="0.368"/><stop offset="0.500" stop-opacity="0.387"/><stop offset="0.562" stop-opacity="0.388"/><stop offset="0.625" stop-opacity="0.370"/><stop offset="0.688" stop-opacity="0.339"/><stop offset="0.750" stop-opacity="0.255"/><stop offset="0.812" stop-opacity="0.088"/><stop offset="0.875" stop-opacity="0.033"/><stop offset="0.938" stop-opacity="0.012"/><stop offset="1.000" stop-opacity="0.003"/></linearGradient><linearGradient id="g48"><stop offset="0.000" stop-opacity="0.003"/><stop offset="0.062" stop-opacity="0.009"/><stop offset="0.125" stop-opacity="0.021"/><stop offset="0.188" stop-opacity="0.043"/><stop offset="0.250" stop-opacity="0.114"/><stop offset="0.312" stop-opacity="0.266"/><stop offset="0.375" stop-opacity="0.339"/><stop offset="0.438" stop-opacity="0.368"/><stop offset="0.500" stop-opacity="0.388"/><stop offset="0.562" stop-opacity="0.390"/><stop offset="0.625" stop-opacity="0.373"/><stop offset="0.688" stop-opacity="0.342"/><stop offset="0.750" stop-opacity="0.264"/><stop offset="0.812" stop-opacity="0.093"/><stop offset="0.875" stop-opacity="0.034"/><stop offset="0.938" stop-opacity="0.012"/><stop offset="1.000" stop-opacity="0.003"/></linearGradient><linearGradient id="g49"><stop offset="0.000" stop-opacity="0.003"/><stop offset="0.062" stop-opacity="0.009"/><stop offset="0.125" stop-opacity="0.022"/><stop offset="0.188" stop-opacity="0.044"/><stop offset="0.250" stop-opacity="0.113"/><stop offset="0.312" stop-opacity="0.265"/><stop offset="0.375" stop-opacity="0.339"/><stop offset="0.438" stop-opacity="0.369"/><stop offset="0.500" stop-opacity="0.389"/><stop offset="0.562" stop-opacity="0.392"/><stop offset="0.625" stop-opacity="0.376"/><stop offset="0.688" stop-opacity="0.345"/><stop offset="0.750" stop-opacity="0.271"/><stop offset="0.812" stop-opacity="0.097"/><stop offset="0.875" stop-opacity="0.035"/><stop offset="0.938" stop-opacity="0.012"/><stop offset="1.000" stop-opacity="0.003"/></linearGradient><linearGradient id="g50"><stop offset="0.000" stop-opacity="0.003"/><stop offset="0.062" stop-opacity="0.009"/><stop offset="0.125" stop-opacity="0.021"/><stop offset="0.188" stop-opacity="0.043"/><stop offset="0.250" stop-opacity="0.107"/><stop offset="0.312" stop-opacity="0.256"/><stop offset="0.375" stop-opacity="0.339"/><stop offset="0.438" stop-opacity="0.369"/><stop offset="0.500" stop-opacity="0.391"/><stop offset="0.562" stop-opacity="0.395"/><stop offset="0.625" stop-opacity="0.379"/><stop offset="0.688" stop-opacity="0.349"/><stop offset="0.750" stop-opacity="0.279"/><stop offset="0.812" stop-opacity="0.101"/><stop offset="0.875" stop-opacity="0.035"/><stop offset="0.938" stop-opacity="0.012"/><stop offset="1.000" stop-opacity="0.003"/></linearGradient><linearGradient id="g51"><stop offset="0.000" stop-opacity="0.003"/><stop offset="0.062" stop-opacity="0.009"/><stop offset="0.125" stop-opacity="0.021"/><stop offset="0.188" stop-opacity="0.042"/><stop offset="0.250" stop-opacity="0.103"/><stop offset="0.312" stop-opacity="0.250"/><stop offset="0.375" stop-opacity="0.339"/><stop offset="0.438" stop-opacity="0.370"/><stop offset="0.500" stop-opacity="0.392"/><stop offset="0.562" stop-opacity="0.398"/><stop offset="0.625" stop-opacity="0.383"/><stop offset="0.688" stop-opacity="0.353"/><stop offset="0.750" stop-opacity="0.293"/><stop offset="0.812" stop-opacity="0.111"/><stop offset="0.875" stop-opacity="0.037"/><stop offset="0.938" stop-opacity="0.013"/><stop offset="1.000" stop-opacity="0.003"/></linearGradient><linearGradient id="g52"><stop offset="0.000" stop-opacity="0.003"/><stop offset="0.062" stop-opacity="0.009"/><stop offset="0.125" stop-opacity="0.020"/><stop offset="0.188" stop-opacity="0.041"/><stop offset="0.250" stop-opacity="0.096"/><stop offset="0.312" stop-opacity="0.240"/><stop offset="0.375" stop-opacity="0.339"/><stop offset="0.438" stop-opacity="0.370"/><stop offset="0.500" stop-opacity="0.394"/><stop offset="0.562" stop-opacity="0.401"/><stop offset="0.625" stop-opacity="0.387"/><stop offset="0.688" stop-opacity="0.357"/><stop offset="0.750" stop-opacity="0.300"/><stop offset="0.812" stop-opacity="0.115"/><stop offset="0.875" stop-opacity="0.038"/><stop offset="0.938" stop-opacity="0.013"/><stop offset="1.000" stop-opacity="0.003"/></linearGradient><linearGradient id="g53"><stop offset="0.000" stop-opacity="0.003"/><stop offset="0.062" stop-opacity="0.009"/><stop offset="0.125" stop-opacity="0.020"/><stop offset="0.188" stop-opacity="0.041"/><stop offset="0.250" stop-opacity="0.092"/><stop offset="0.312" stop-opacity="0.233"/><stop offset="0.375" stop-opacity="0.340"/><stop offset="0.438" stop-opacity="0.371"/><stop offset="0.500" stop-opacity="0.395"/><stop offset="0.562" stop-opacity="0.404"/><stop offset="0.625" stop-opacity="0.392"/><stop offset="0.688" stop-opacity="0.363"/><stop offset="0.750" stop-opacity="0.312"/><stop offset="0.812" stop-opacity="0.126"/><stop offset="0.875" stop-opacity="0.040"/><stop offset="0.938" stop-opacity="0.013"/><stop offset="1.000" stop-opacity="0.003"/></linearGradient><linearGradient id="g54"><stop offset="0.000" stop-opacity="0.003"/><stop offset="0.062" stop-opacity="0.009"/><stop offset="0.125" stop-opacity="0.020"/><stop offset="0.188" stop-opacity="0.041"/><stop offset="0.250" stop-opacity="0.088"/><stop offset="0.312" stop-opacity="0.224"/><stop offset="0.375" stop-opacity="0.340"/><stop offset="0.438" stop-opacity="0.372"/><stop offset="0.500" stop-opacity="0.397"/><stop offset="0.562" stop-opacity="0.407"/><stop offset="0.625" stop-opacity="0.397"/><stop offset="0.688" stop-opacity="0.368"/><stop offset="0.750" stop-opacity="0.323"/><stop offset="0.812" stop-opacity="0.137"/><stop offset="0.875" stop-opacity="0.042"/><stop offset="0.938" stop-opacity="0.014"/><stop offset="1.000" stop-opacity="0.003"/></linearGradient><linearGradient id="g55"><stop offset="0.000" stop-opacity="0.003"/><stop offset="0.062" stop-opacity="0.009"/><stop offset="0.125" stop-opacity="0.019"/><stop offset="0.188" stop-opacity="0.040"/><stop offset="0.250" stop-opacity="0.085"/><stop offset="0.312" stop-opacity="0.219"/><stop offset="0.375" stop-opacity="0.342"/><stop offset="0.438" stop-opacity="0.374"/><stop offset="0.500" stop-opacity="0.400"/><stop offset="0.562" stop-opacity="0.411"/><stop offset="0.625" stop-opacity="0.401"/><stop offset="0.688" stop-opacity="0.372"/><stop offset="0.750" stop-opacity="0.328"/><stop offset="0.812" stop-opacity="0.138"/><stop offset="0.875" stop-opacity="0.042"/><stop offset="0.938" stop-opacity="0.013"/><stop offset="1.000" stop-opacity="0.003"/></linearGradient><linearGradient id="g56"><stop offset="0.000" stop-opacity="0.004"/><stop offset="0.062" stop-opacity="0.009"/><stop offset="0.125" stop-opacity="0.020"/><stop offset="0.188" stop-opacity="0.040"/><stop offset="0.250" stop-opacity="0.083"/><stop offset="0.312" stop-opacity="0.213"/><stop offset="0.375" stop-opacity="0.343"/><stop offset="0.438" stop-opacity="0.375"/><stop offset="0.500" stop-opacity="0.402"/><stop offset="0.562" stop-opacity="0.414"/><stop offset="0.625" stop-opacity="0.407"/><stop offset="0.688" stop-opacity="0.379"/><stop offset="0.750" stop-opacity="0.340"/><stop offset="0.812" stop-opacity="0.157"/><stop offset="0.875" stop-opacity="0.044"/><stop offset="0.938" stop-opacity="0.015"/><stop offset="1.000" stop-opacity="0.003"/></linearGradient><linearGradient id="g57"><stop offset="0.000" stop-opacity="0.004"/><stop offset="0.062" stop-opacity="0.009"/><stop offset="0.125" stop-opacity="0.019"/><stop offset="0.188" stop-opacity="0.039"/><stop offset="0.250" stop-opacity="0.078"/><stop offset="0.312" stop-opacity="0.201"/><stop offset="0.375" stop-opacity="0.342"/><stop offset="0.438" stop-opacity="0.376"/><stop offset="0.500" stop-opacity="0.404"/><stop offset="0.562" stop-opacity="0.419"/><stop offset="0.625" stop-opacity="0.412"/><stop offset="0.688" stop-opacity="0.386"/><stop offset="0.750" stop-opacity="0.347"/><stop offset="0.812" stop-opacity="0.168"/><stop offset="0.875" stop-opacity="0.046"/><stop offset="0.938" stop-opacity="0.015"/><stop offset="1.000" stop-opacity="0.003"/></linearGradient><linearGradient id="g58"><stop offset="0.000" stop-opacity="0.004"/><stop offset="0.062" stop-opacity="0.009"/><stop offset="0.125" stop-opacity="0.019"/><stop offset="0.188" stop-opacity="0.038"/><stop offset="0.250" stop-opacity="0.076"/><stop offset="0.312" stop-opacity="0.197"/><stop offset="0.375" stop-opacity="0.342"/><stop offset="0.438" stop-opacity="0.379"/><stop offset="0.500" stop-opacity="0.407"/><stop offset="0.562" stop-opacity="0.423"/><stop offset="0.625" stop-opacity="0.418"/><stop offset="0.688" stop-opacity="0.392"/><stop offset="0.750" stop-opacity="0.353"/><stop offset="0.812" stop-opacity="0.176"/><stop offset="0.875" stop-opacity="0.047"/><stop offset="0.938" stop-opacity="0.015"/><stop offset="1.000" stop-opacity="0.003"/></linearGradient><linearGradient id="g59"><stop offset="0.000" stop-opacity="0.004"/><stop offset="0.062" stop-opacity="0.009"/><stop offset="0.125" stop-opacity="0.019"/><stop offset="0.188" stop-opacity="0.038"/><stop offset="0.250" stop-opacity="0.073"/><stop offset="0.312" stop-opacity="0.187"/><stop offset="0.375" stop-opacity="0.338"/><stop offset="0.438" stop-opacity="0.381"/><stop offset="0.500" stop-opacity="0.410"/><stop offset="0.562" stop-opacity="0.428"/><stop offset="0.625" stop-opacity="0.425"/><stop offset="0.688" stop-opacity="0.401"/><stop offset="0.750" stop-opacity="0.362"/><stop offset="0.812" stop-opacity="0.198"/><stop offset="0.875" stop-opacity="0.050"/><stop offset="0.938" stop-opacity="0.016"/><stop offset="1.000" stop-opacity="0.003"/></linearGradient><linearGradient id="g60"><stop offset="0.000" stop-opacity="0.004"/><stop offset="0.062" stop-opacity="0.009"/><stop offset="0.125" stop-opacity="0.019"/><stop offset="0.188" stop-opacity="0.037"/><stop offset="0.250" stop-opacity="0.069"/><stop offset="0.312" stop-opacity="0.177"/><stop offset="0.375" stop-opacity="0.332"/><stop offset="0.438" stop-opacity="0.383"/><stop offset="0.500" stop-opacity="0.413"/><stop offset="0.562" stop-opacity="0.433"/><stop offset="0.625" stop-opacity="0.433"/><stop offset="0.688" stop-opacity="0.410"/><stop offset="0.750" stop-opacity="0.371"/><stop offset="0.812" stop-opacity="0.220"/><stop offset="0.875" stop-opacity="0.055"/><stop offset="0.938" stop-opacity="0.017"/><stop offset="1.000" stop-opacity="0.003"/></linearGradient><linearGradient id="g61"><stop offset="0.000" stop-opacity="0.004"/><stop offset="0.062" stop-opacity="0.009"/><stop offset="0.125" stop-opacity="0.018"/><stop offset="0.188" stop-opacity="0.036"/><stop offset="0.250" stop-opacity="0.065"/><stop offset="0.312" stop-opacity="0.165"/><stop offset="0.375" stop-opacity="0.324"/><stop offset="0.438" stop-opacity="0.385"/><stop offset="0.500" stop-opacity="0.416"/><stop offset="0.562" stop-opacity="0.438"/><stop offset="0.625" stop-opacity="0.441"/><stop offset="0.688" stop-opacity="0.420"/><stop offset="0.750" stop-opacity="0.381"/><stop offset="0.812" stop-opacity="0.244"/><stop offset="0.875" stop-opacity="0.060"/><stop offset="0.938" stop-opacity="0.018"/><stop offset="1.000" stop-opacity="0.003"/></linearGradient><linearGradient id="g62"><stop offset="0.000" stop-opacity="0.004"/><stop offset="0.062" stop-opacity="0.008"/><stop offset="0.125" stop-opacity="0.018"/><stop offset="0.188" stop-opacity="0.034"/><stop offset="0.250" stop-opacity="0.061"/><stop offset="0.312" stop-opacity="0.151"/><stop offset="0.375" stop-opacity="0.311"/><stop offset="0.438" stop-opacity="0.387"/><stop offset="0.500" stop-opacity="0.420"/><stop offset="0.562" stop-opacity="0.444"/><stop offset="0.625" stop-opacity="0.449"/><stop offset="0.688" stop-opacity="0.431"/><stop offset="0.750" stop-opacity="0.392"/><stop offset="0.812" stop-opacity="0.268"/><stop offset="0.875" stop-opacity="0.065"/><stop offset="0.938" stop-opacity="0.019"/><stop offset="1.000" stop-opacity="0.003"/></linearGradient><linearGradient id="g63"><stop offset="0.000" stop-opacity="0.004"/><stop offset="0.062" stop-opacity="0.009"/><stop offset="0.125" stop-opacity="0.018"/><stop offset="0.188" stop-opacity="0.034"/><stop offset="0.250" stop-opacity="0.059"/><stop offset="0.312" stop-opacity="0.144"/><stop offset="0.375" stop-opacity="0.303"/><stop offset="0.438" stop-opacity="0.391"/><stop offset="0.500" stop-opacity="0.425"/><stop offset="0.562" stop-opacity="0.451"/><stop offset="0.625" stop-opacity="0.459"/><stop offset="0.688" stop-opacity="0.442"/><stop offset="0.750" stop-opacity="0.404"/><stop offset="0.812" stop-opacity="0.289"/><stop offset="0.875" stop-opacity="0.069"/><stop offset="0.938" stop-opacity="0.019"/><stop offset="1.000" stop-opacity="0.003"/></linearGradient><linearGradient id="g64"><stop offset="0.000" stop-opacity="0.004"/><stop offset="0.062" stop-opacity="0.008"/><stop offset="0.125" stop-opacity="0.017"/><stop offset="0.188" stop-opacity="0.033"/><stop offset="0.250" stop-opacity="0.057"/><stop offset="0.312" stop-opacity="0.132"/><stop offset="0.375" stop-opacity="0.287"/><stop offset="0.438" stop-opacity="0.395"/><stop offset="0.500" stop-opacity="0.429"/><stop offset="0.562" stop-opacity="0.458"/><stop offset="0.625" stop-opacity="0.469"/><stop offset="0.688" stop-opacity="0.456"/><stop offset="0.750" stop-opacity="0.419"/><stop offset="0.812" stop-opacity="0.327"/><stop offset="0.875" stop-opacity="0.083"/><stop offset="0.938" stop-opacity="0.021"/><stop offset="1.000" stop-opacity="0.003"/></linearGradient><linearGradient id="g65"><stop offset="0.000" stop-opacity="0.004"/><stop offset="0.062" stop-opacity="0.008"/><stop offset="0.125" stop-opacity="0.017"/><stop offset="0.188" stop-opacity="0.032"/><stop offset="0.250" stop-opacity="0.054"/><stop offset="0.312" stop-opacity="0.118"/><stop offset="0.375" stop-opacity="0.266"/><stop offset="0.438" stop-opacity="0.399"/><stop offset="0.500" stop-opacity="0.434"/><stop offset="0.562" stop-opacity="0.465"/><stop offset="0.625" stop-opacity="0.481"/><stop offset="0.688" stop-opacity="0.472"/><stop offset="0.750" stop-opacity="0.437"/><stop offset="0.812" stop-opacity="0.364"/><stop offset="0.875" stop-opacity="0.099"/><stop offset="0.938" stop-opacity="0.023"/><stop offset="1.000" stop-opacity="0.002"/></linearGradient><linearGradient id="g66"><stop offset="0.000" stop-opacity="0.004"/><stop offset="0.062" stop-opacity="0.008"/><stop offset="0.125" stop-opacity="0.016"/><stop offset="0.188" stop-opacity="0.031"/><stop offset="0.250" stop-opacity="0.053"/><stop offset="0.312" stop-opacity="0.106"/><stop offset="0.375" stop-opacity="0.243"/><stop offset="0.438" stop-opacity="0.398"/><stop offset="0.500" stop-opacity="0.439"/><stop offset="0.562" stop-opacity="0.473"/><stop offset="0.625" stop-opacity="0.493"/><stop offset="0.688" stop-opacity="0.490"/><stop offset="0.750" stop-opacity="0.459"/><stop offset="0.812" stop-opacity="0.405"/><stop offset="0.875" stop-opacity="0.134"/><stop offset="0.938" stop-opacity="0.028"/><stop offset="1.000" stop-opacity="0.003"/></linearGradient><linearGradient id="g67"><stop offset="0.000" stop-opacity="0.004"/><stop offset="0.062" stop-opacity="0.008"/><stop offset="0.125" stop-opacity="0.016"/><stop offset="0.188" stop-opacity="0.030"/><stop offset="0.250" stop-opacity="0.052"/><stop offset="0.312" stop-opacity="0.095"/><stop offset="0.375" stop-opacity="0.221"/><stop offset="0.438" stop-opacity="0.390"/><stop offset="0.500" stop-opacity="0.447"/><stop offset="0.562" stop-opacity="0.483"/><stop offset="0.625" stop-opacity="0.508"/><stop offset="0.688" stop-opacity="0.510"/><stop offset="0.750" stop-opacity="0.481"/><stop offset="0.812" stop-opacity="0.428"/><stop offset="0.875" stop-opacity="0.154"/><stop offset="0.938" stop-opacity="0.028"/><stop offset="1.000" stop-opacity="0.002"/></linearGradient><linearGradient id="g68"><stop offset="0.000" stop-opacity="0.004"/><stop offset="0.062" stop-opacity="0.008"/><stop offset="0.125" stop-opacity="0.016"/><stop offset="0.188" stop-opacity="0.029"/><stop offset="0.250" stop-opacity="0.050"/><stop offset="0.312" stop-opacity="0.084"/><stop offset="0.375" stop-opacity="0.191"/><stop offset="0.438" stop-opacity="0.364"/><stop offset="0.500" stop-opacity="0.455"/><stop offset="0.562" stop-opacity="0.492"/><stop offset="0.625" stop-opacity="0.522"/><stop offset="0.688" stop-opacity="0.533"/><stop offset="0.750" stop-opacity="0.513"/><stop offset="0.812" stop-opacity="0.462"/><stop offset="0.875" stop-opacity="0.235"/><stop offset="0.938" stop-opacity="0.038"/><stop offset="1.000" stop-opacity="0.002"/></linearGradient><linearGradient id="g69"><stop offset="0.000" stop-opacity="0.005"/><stop offset="0.062" stop-opacity="0.009"/><stop offset="0.125" stop-opacity="0.016"/><stop offset="0.188" stop-opacity="0.028"/><stop offset="0.250" stop-opacity="0.048"/><stop offset="0.312" stop-opacity="0.076"/><stop offset="0.375" stop-opacity="0.163"/><stop offset="0.438" stop-opacity="0.329"/><stop offset="0.500" stop-opacity="0.466"/><stop offset="0.562" stop-opacity="0.505"/><stop offset="0.625" stop-opacity="0.540"/><stop offset="0.688" stop-opacity="0.560"/><stop offset="0.750" stop-opacity="0.550"/><stop offset="0.812" stop-opacity="0.504"/><stop offset="0.875" stop-opacity="0.337"/><stop offset="0.938" stop-opacity="0.048"/><stop offset="1.000" stop-opacity="0.001"/></linearGradient><linearGradient id="g70"><stop offset="0.000" stop-opacity="0.005"/><stop offset="0.062" stop-opacity="0.009"/><stop offset="0.125" stop-opacity="0.015"/><stop offset="0.188" stop-opacity="0.026"/><stop offset="0.250" stop-opacity="0.043"/><stop offset="0.312" stop-opacity="0.066"/><stop offset="0.375" stop-opacity="0.124"/><stop offset="0.438" stop-opacity="0.263"/><stop offset="0.500" stop-opacity="0.446"/><stop offset="0.562" stop-opacity="0.517"/><stop offset="0.625" stop-opacity="0.558"/><stop offset="0.688" stop-opacity="0.589"/><stop offset="0.750" stop-opacity="0.597"/><stop offset="0.812" stop-opacity="0.565"/><stop offset="0.875" stop-opacity="0.486"/><stop offset="0.938" stop-opacity="0.071"/><stop offset="1.000" stop-opacity="0.000"/></linearGradient><linearGradient id="g71"><stop offset="0.000" stop-opacity="0.005"/><stop offset="0.062" stop-opacity="0.009"/><stop offset="0.125" stop-opacity="0.015"/><stop offset="0.188" stop-opacity="0.024"/><stop offset="0.250" stop-opacity="0.038"/><stop offset="0.312" stop-opacity="0.060"/><stop offset="0.375" stop-opacity="0.090"/><stop offset="0.438" stop-opacity="0.178"/><stop offset="0.500" stop-opacity="0.344"/><stop offset="0.562" stop-opacity="0.521"/><stop offset="0.625" stop-opacity="0.575"/><stop offset="0.688" stop-opacity="0.617"/><stop offset="0.750" stop-opacity="0.649"/><stop offset="0.812" stop-opacity="0.651"/><stop offset="0.875" stop-opacity="0.601"/><stop offset="0.938" stop-opacity="0.322"/><stop offset="1.000" stop-opacity="0.000"/></linearGradient><linearGradient id="g72"><stop offset="0.000" stop-opacity="0.006"/><stop offset="0.062" stop-opacity="0.010"/><stop offset="0.125" stop-opacity="0.015"/><stop offset="0.188" stop-opacity="0.023"/><stop offset="0.250" stop-opacity="0.034"/><stop offset="0.312" stop-opacity="0.051"/><stop offset="0.375" stop-opacity="0.076"/><stop offset="0.438" stop-opacity="0.108"/><stop offset="0.500" stop-opacity="0.199"/><stop offset="0.562" stop-opacity="0.368"/><stop offset="0.625" stop-opacity="0.569"/><stop offset="0.688" stop-opacity="0.653"/><stop offset="0.750" stop-opacity="0.702"/><stop offset="0.812" stop-opacity="0.745"/><stop offset="0.875" stop-opacity="0.760"/><stop offset="0.938" stop-opacity="0.700"/><stop offset="1.000" stop-opacity="0.013"/></linearGradient><linearGradient id="g73"><stop offset="0.000" stop-opacity="0.007"/><stop offset="0.062" stop-opacity="0.009"/><stop offset="0.125" stop-opacity="0.012"/><stop offset="0.188" stop-opacity="0.016"/><stop offset="0.250" stop-opacity="0.022"/><stop offset="0.312" stop-opacity="0.030"/><stop offset="0.375" stop-opacity="0.040"/><stop offset="0.438" stop-opacity="0.054"/><stop offset="0.500" stop-opacity="0.072"/><stop offset="0.562" stop-opacity="0.092"/><stop offset="0.625" stop-opacity="0.137"/><stop offset="0.688" stop-opacity="0.232"/><stop offset="0.750" stop-opacity="0.390"/><stop offset="0.812" stop-opacity="0.584"/><stop offset="0.875" stop-opacity="0.680"/><stop offset="0.938" stop-opacity="0.742"/><stop offset="1.000" stop-opacity="0.821"/></linearGradient><mask id="m12" maskUnits="userSpaceOnUse" x="-2000" y="-2000" width="6000" height="4000"><rect x="-2000" y="-2000" width="6000" height="4000" fill="#fff"/><path d="M87.85,-2.83H93.17V2.48H87.85ZM95.56,-2.83H100.25V2.48H95.56Z" fill="#000"/></mask><mask id="m13" maskUnits="userSpaceOnUse" x="-2000" y="-2000" width="6000" height="4000"><rect x="-2000" y="-2000" width="6000" height="4000" fill="#fff"/><path d="M29.95,-2.83H35.27V2.48H29.95ZM37.67,-2.83H42.35V2.48H37.67ZM87.85,-2.83H93.17V2.48H87.85ZM95.56,-2.83H100.25V2.48H95.56ZM101.97,-2.83H107.29V2.48H101.97ZM109.69,-2.83H114.37V2.48H109.69Z" fill="#000"/></mask><mask id="m14" maskUnits="userSpaceOnUse" x="-2000" y="-2000" width="6000" height="4000"><rect x="-2000" y="-2000" width="6000" height="4000" fill="#fff"/><path d="M0.55,-3.88H6.45V2.73H0.55ZM10.46,-3.88H15.31V2.73H10.46Z" fill="#000"/></mask><mask id="m15" maskUnits="userSpaceOnUse" x="-2000" y="-2000" width="6000" height="4000"><rect x="-2000" y="-2000" width="6000" height="4000" fill="#fff"/><path d="M0.55,-3.88H6.45V2.73H0.55ZM10.46,-3.88H15.31V2.73H10.46Z" fill="#000"/></mask><filter id="f74" x="-5%" y="-5%" width="110%" height="110%"><feGaussianBlur stdDeviation="1.6 1.0"/></filter><linearGradient id="g74"><stop offset="0.000" stop-opacity="0.974"/><stop offset="0.062" stop-opacity="0.941"/><stop offset="0.125" stop-opacity="0.888"/><stop offset="0.188" stop-opacity="0.815"/><stop offset="0.250" stop-opacity="0.728"/><stop offset="0.312" stop-opacity="0.632"/><stop offset="0.375" stop-opacity="0.536"/><stop offset="0.438" stop-opacity="0.444"/><stop offset="0.500" stop-opacity="0.362"/><stop offset="0.562" stop-opacity="0.291"/><stop offset="0.625" stop-opacity="0.231"/><stop offset="0.688" stop-opacity="0.181"/><stop offset="0.750" stop-opacity="0.141"/><stop offset="0.812" stop-opacity="0.110"/><stop offset="0.875" stop-opacity="0.085"/><stop offset="0.938" stop-opacity="0.065"/><stop offset="1.000" stop-opacity="0.050"/></linearGradient><linearGradient id="g75"><stop offset="0.000" stop-opacity="0.019"/><stop offset="0.062" stop-opacity="0.630"/><stop offset="0.125" stop-opacity="0.758"/><stop offset="0.188" stop-opacity="0.764"/><stop offset="0.250" stop-opacity="0.724"/><stop offset="0.312" stop-opacity="0.656"/><stop offset="0.375" stop-opacity="0.570"/><stop offset="0.438" stop-opacity="0.475"/><stop offset="0.500" stop-opacity="0.381"/><stop offset="0.562" stop-opacity="0.295"/><stop offset="0.625" stop-opacity="0.222"/><stop offset="0.688" stop-opacity="0.163"/><stop offset="0.750" stop-opacity="0.118"/><stop offset="0.812" stop-opacity="0.084"/><stop offset="0.875" stop-opacity="0.059"/><stop offset="0.938" stop-opacity="0.041"/><stop offset="1.000" stop-opacity="0.029"/></linearGradient><linearGradient id="g76"><stop offset="0.000" stop-opacity="0.000"/><stop offset="0.062" stop-opacity="0.294"/><stop offset="0.125" stop-opacity="0.550"/><stop offset="0.188" stop-opacity="0.657"/><stop offset="0.250" stop-opacity="0.680"/><stop offset="0.312" stop-opacity="0.654"/><stop offset="0.375" stop-opacity="0.595"/><stop offset="0.438" stop-opacity="0.514"/><stop offset="0.500" stop-opacity="0.423"/><stop offset="0.562" stop-opacity="0.331"/><stop offset="0.625" stop-opacity="0.248"/><stop offset="0.688" stop-opacity="0.179"/><stop offset="0.750" stop-opacity="0.125"/><stop offset="0.812" stop-opacity="0.086"/><stop offset="0.875" stop-opacity="0.057"/><stop offset="0.938" stop-opacity="0.038"/><stop offset="1.000" stop-opacity="0.025"/></linearGradient><linearGradient id="g77"><stop offset="0.000" stop-opacity="0.013"/><stop offset="0.062" stop-opacity="0.167"/><stop offset="0.125" stop-opacity="0.389"/><stop offset="0.188" stop-opacity="0.543"/><stop offset="0.250" stop-opacity="0.615"/><stop offset="0.312" stop-opacity="0.626"/><stop offset="0.375" stop-opacity="0.596"/><stop offset="0.438" stop-opacity="0.534"/><stop offset="0.500" stop-opacity="0.453"/><stop offset="0.562" stop-opacity="0.363"/><stop offset="0.625" stop-opacity="0.275"/><stop offset="0.688" stop-opacity="0.198"/><stop offset="0.750" stop-opacity="0.137"/><stop offset="0.812" stop-opacity="0.091"/><stop offset="0.875" stop-opacity="0.059"/><stop offset="0.938" stop-opacity="0.038"/><stop offset="1.000" stop-opacity="0.024"/></linearGradient><linearGradient id="g78"><stop offset="0.000" stop-opacity="0.018"/><stop offset="0.062" stop-opacity="0.120"/><stop offset="0.125" stop-opacity="0.292"/><stop offset="0.188" stop-opacity="0.451"/><stop offset="0.250" stop-opacity="0.551"/><stop offset="0.312" stop-opacity="0.591"/><stop offset="0.375" stop-opacity="0.584"/><stop offset="0.438" stop-opacity="0.541"/><stop offset="0.500" stop-opacity="0.471"/><stop offset="0.562" stop-opacity="0.385"/><stop offset="0.625" stop-opacity="0.296"/><stop offset="0.688" stop-opacity="0.214"/><stop offset="0.750" stop-opacity="0.147"/><stop offset="0.812" stop-opacity="0.096"/><stop offset="0.875" stop-opacity="0.061"/><stop offset="0.938" stop-opacity="0.038"/><stop offset="1.000" stop-opacity="0.023"/></linearGradient><linearGradient id="g79"><stop offset="0.000" stop-opacity="0.019"/><stop offset="0.062" stop-opacity="0.092"/><stop offset="0.125" stop-opacity="0.227"/><stop offset="0.188" stop-opacity="0.377"/><stop offset="0.250" stop-opacity="0.491"/><stop offset="0.312" stop-opacity="0.554"/><stop offset="0.375" stop-opacity="0.568"/><stop offset="0.438" stop-opacity="0.542"/><stop offset="0.500" stop-opacity="0.485"/><stop offset="0.562" stop-opacity="0.406"/><stop offset="0.625" stop-opacity="0.318"/><stop offset="0.688" stop-opacity="0.233"/><stop offset="0.750" stop-opacity="0.160"/><stop offset="0.812" stop-opacity="0.103"/><stop offset="0.875" stop-opacity="0.064"/><stop offset="0.938" stop-opacity="0.038"/><stop offset="1.000" stop-opacity="0.022"/></linearGradient><linearGradient id="g80"><stop offset="0.000" stop-opacity="0.019"/><stop offset="0.062" stop-opacity="0.075"/><stop offset="0.125" stop-opacity="0.184"/><stop offset="0.188" stop-opacity="0.320"/><stop offset="0.250" stop-opacity="0.440"/><stop offset="0.312" stop-opacity="0.518"/><stop offset="0.375" stop-opacity="0.549"/><stop offset="0.438" stop-opacity="0.539"/><stop offset="0.500" stop-opacity="0.495"/><stop offset="0.562" stop-opacity="0.423"/><stop offset="0.625" stop-opacity="0.337"/><stop offset="0.688" stop-opacity="0.249"/><stop offset="0.750" stop-opacity="0.171"/><stop offset="0.812" stop-opacity="0.110"/><stop offset="0.875" stop-opacity="0.067"/><stop offset="0.938" stop-opacity="0.039"/><stop offset="1.000" stop-opacity="0.022"/></linearGradient><linearGradient id="g81"><stop offset="0.000" stop-opacity="0.020"/><stop offset="0.062" stop-opacity="0.067"/><stop offset="0.125" stop-opacity="0.158"/><stop offset="0.188" stop-opacity="0.280"/><stop offset="0.250" stop-opacity="0.398"/><stop offset="0.312" stop-opacity="0.485"/><stop offset="0.375" stop-opacity="0.530"/><stop offset="0.438" stop-opacity="0.533"/><stop offset="0.500" stop-opacity="0.500"/><stop offset="0.562" stop-opacity="0.437"/><stop offset="0.625" stop-opacity="0.354"/><stop offset="0.688" stop-opacity="0.265"/><stop offset="0.750" stop-opacity="0.182"/><stop offset="0.812" stop-opacity="0.117"/><stop offset="0.875" stop-opacity="0.070"/><stop offset="0.938" stop-opacity="0.039"/><stop offset="1.000" stop-opacity="0.021"/></linearGradient><linearGradient id="g82"><stop offset="0.000" stop-opacity="0.020"/><stop offset="0.062" stop-opacity="0.060"/><stop offset="0.125" stop-opacity="0.137"/><stop offset="0.188" stop-opacity="0.246"/><stop offset="0.250" stop-opacity="0.361"/><stop offset="0.312" stop-opacity="0.455"/><stop offset="0.375" stop-opacity="0.511"/><stop offset="0.438" stop-opacity="0.527"/><stop offset="0.500" stop-opacity="0.504"/><stop offset="0.562" stop-opacity="0.450"/><stop offset="0.625" stop-opacity="0.371"/><stop offset="0.688" stop-opacity="0.281"/><stop offset="0.750" stop-opacity="0.195"/><stop offset="0.812" stop-opacity="0.124"/><stop offset="0.875" stop-opacity="0.073"/><stop offset="0.938" stop-opacity="0.040"/><stop offset="1.000" stop-opacity="0.021"/></linearGradient><linearGradient id="g83"><stop offset="0.000" stop-opacity="0.020"/><stop offset="0.062" stop-opacity="0.055"/><stop offset="0.125" stop-opacity="0.123"/><stop offset="0.188" stop-opacity="0.220"/><stop offset="0.250" stop-opacity="0.330"/><stop offset="0.312" stop-opacity="0.427"/><stop offset="0.375" stop-opacity="0.492"/><stop offset="0.438" stop-opacity="0.519"/><stop offset="0.500" stop-opacity="0.507"/><stop offset="0.562" stop-opacity="0.461"/><stop offset="0.625" stop-opacity="0.388"/><stop offset="0.688" stop-opacity="0.299"/><stop offset="0.750" stop-opacity="0.209"/><stop offset="0.812" stop-opacity="0.133"/><stop offset="0.875" stop-opacity="0.077"/><stop offset="0.938" stop-opacity="0.041"/><stop offset="1.000" stop-opacity="0.021"/></linearGradient><linearGradient id="g84"><stop offset="0.000" stop-opacity="0.020"/><stop offset="0.062" stop-opacity="0.051"/><stop offset="0.125" stop-opacity="0.110"/><stop offset="0.188" stop-opacity="0.198"/><stop offset="0.250" stop-opacity="0.302"/><stop offset="0.312" stop-opacity="0.401"/><stop offset="0.375" stop-opacity="0.473"/><stop offset="0.438" stop-opacity="0.510"/><stop offset="0.500" stop-opacity="0.509"/><stop offset="0.562" stop-opacity="0.472"/><stop offset="0.625" stop-opacity="0.404"/><stop offset="0.688" stop-opacity="0.316"/><stop offset="0.750" stop-opacity="0.224"/><stop offset="0.812" stop-opacity="0.142"/><stop offset="0.875" stop-opacity="0.081"/><stop offset="0.938" stop-opacity="0.042"/><stop offset="1.000" stop-opacity="0.020"/></linearGradient><linearGradient id="g85"><stop offset="0.000" stop-opacity="0.020"/><stop offset="0.062" stop-opacity="0.048"/><stop offset="0.125" stop-opacity="0.101"/><stop offset="0.188" stop-opacity="0.181"/><stop offset="0.250" stop-opacity="0.279"/><stop offset="0.312" stop-opacity="0.377"/><stop offset="0.375" stop-opacity="0.456"/><stop offset="0.438" stop-opacity="0.501"/><stop offset="0.500" stop-opacity="0.510"/><stop offset="0.562" stop-opacity="0.482"/><stop offset="0.625" stop-opacity="0.421"/><stop offset="0.688" stop-opacity="0.335"/><stop offset="0.750" stop-opacity="0.240"/><stop offset="0.812" stop-opacity="0.153"/><stop offset="0.875" stop-opacity="0.087"/><stop offset="0.938" stop-opacity="0.044"/><stop offset="1.000" stop-opacity="0.020"/></linearGradient><linearGradient id="g86"><stop offset="0.000" stop-opacity="0.020"/><stop offset="0.062" stop-opacity="0.046"/><stop offset="0.125" stop-opacity="0.093"/><stop offset="0.188" stop-opacity="0.166"/><stop offset="0.250" stop-opacity="0.258"/><stop offset="0.312" stop-opacity="0.355"/><stop offset="0.375" stop-opacity="0.438"/><stop offset="0.438" stop-opacity="0.492"/><stop offset="0.500" stop-opacity="0.511"/><stop offset="0.562" stop-opacity="0.492"/><stop offset="0.625" stop-opacity="0.438"/><stop offset="0.688" stop-opacity="0.355"/><stop offset="0.750" stop-opacity="0.258"/><stop offset="0.812" stop-opacity="0.166"/><stop offset="0.875" stop-opacity="0.093"/><stop offset="0.938" stop-opacity="0.046"/><stop offset="1.000" stop-opacity="0.020"/></linearGradient><linearGradient id="g87"><stop offset="0.000" stop-opacity="0.020"/><stop offset="0.062" stop-opacity="0.044"/><stop offset="0.125" stop-opacity="0.087"/><stop offset="0.188" stop-opacity="0.153"/><stop offset="0.250" stop-opacity="0.240"/><stop offset="0.312" stop-opacity="0.335"/><stop offset="0.375" stop-opacity="0.421"/><stop offset="0.438" stop-opacity="0.482"/><stop offset="0.500" stop-opacity="0.510"/><stop offset="0.562" stop-opacity="0.501"/><stop offset="0.625" stop-opacity="0.456"/><stop offset="0.688" stop-opacity="0.377"/><stop offset="0.750" stop-opacity="0.279"/><stop offset="0.812" stop-opacity="0.181"/><stop offset="0.875" stop-opacity="0.101"/><stop offset="0.938" stop-opacity="0.048"/><stop offset="1.000" stop-opacity="0.020"/></linearGradient><linearGradient id="g88"><stop offset="0.000" stop-opacity="0.020"/><stop offset="0.062" stop-opacity="0.042"/><stop offset="0.125" stop-opacity="0.081"/><stop offset="0.188" stop-opacity="0.142"/><stop offset="0.250" stop-opacity="0.224"/><stop offset="0.312" stop-opacity="0.316"/><stop offset="0.375" stop-opacity="0.404"/><stop offset="0.438" stop-opacity="0.472"/><stop offset="0.500" stop-opacity="0.509"/><stop offset="0.562" stop-opacity="0.510"/><stop offset="0.625" stop-opacity="0.473"/><stop offset="0.688" stop-opacity="0.401"/><stop offset="0.750" stop-opacity="0.302"/><stop offset="0.812" stop-opacity="0.198"/><stop offset="0.875" stop-opacity="0.110"/><stop offset="0.938" stop-opacity="0.051"/><stop offset="1.000" stop-opacity="0.020"/></linearGradient><linearGradient id="g89"><stop offset="0.000" stop-opacity="0.021"/><stop offset="0.062" stop-opacity="0.041"/><stop offset="0.125" stop-opacity="0.077"/><stop offset="0.188" stop-opacity="0.133"/><stop offset="0.250" stop-opacity="0.209"/><stop offset="0.312" stop-opacity="0.299"/><stop offset="0.375" stop-opacity="0.388"/><stop offset="0.438" stop-opacity="0.461"/><stop offset="0.500" stop-opacity="0.507"/><stop offset="0.562" stop-opacity="0.519"/><stop offset="0.625" stop-opacity="0.492"/><stop offset="0.688" stop-opacity="0.427"/><stop offset="0.750" stop-opacity="0.330"/><stop offset="0.812" stop-opacity="0.220"/><stop offset="0.875" stop-opacity="0.123"/><stop offset="0.938" stop-opacity="0.055"/><stop offset="1.000" stop-opacity="0.020"/></linearGradient><linearGradient id="g90"><stop offset="0.000" stop-opacity="0.021"/><stop offset="0.062" stop-opacity="0.040"/><stop offset="0.125" stop-opacity="0.073"/><stop offset="0.188" stop-opacity="0.124"/><stop offset="0.250" stop-opacity="0.195"/><stop offset="0.312" stop-opacity="0.281"/><stop offset="0.375" stop-opacity="0.371"/><stop offset="0.438" stop-opacity="0.450"/><stop offset="0.500" stop-opacity="0.504"/><stop offset="0.562" stop-opacity="0.527"/><stop offset="0.625" stop-opacity="0.511"/><stop offset="0.688" stop-opacity="0.455"/><stop offset="0.750" stop-opacity="0.361"/><stop offset="0.812" stop-opacity="0.246"/><stop offset="0.875" stop-opacity="0.137"/><stop offset="0.938" stop-opacity="0.060"/><stop offset="1.000" stop-opacity="0.020"/></linearGradient><linearGradient id="g91"><stop offset="0.000" stop-opacity="0.021"/><stop offset="0.062" stop-opacity="0.039"/><stop offset="0.125" stop-opacity="0.070"/><stop offset="0.188" stop-opacity="0.117"/><stop offset="0.250" stop-opacity="0.182"/><stop offset="0.312" stop-opacity="0.265"/><stop offset="0.375" stop-opacity="0.354"/><stop offset="0.438" stop-opacity="0.437"/><stop offset="0.500" stop-opacity="0.500"/><stop offset="0.562" stop-opacity="0.533"/><stop offset="0.625" stop-opacity="0.530"/><stop offset="0.688" stop-opacity="0.485"/><stop offset="0.750" stop-opacity="0.398"/><stop offset="0.812" stop-opacity="0.280"/><stop offset="0.875" stop-opacity="0.158"/><stop offset="0.938" stop-opacity="0.067"/><stop offset="1.000" stop-opacity="0.020"/></linearGradient><linearGradient id="g92"><stop offset="0.000" stop-opacity="0.022"/><stop offset="0.062" stop-opacity="0.039"/><stop offset="0.125" stop-opacity="0.067"/><stop offset="0.188" stop-opacity="0.110"/><stop offset="0.250" stop-opacity="0.171"/><stop offset="0.312" stop-opacity="0.249"/><stop offset="0.375" stop-opacity="0.337"/><stop offset="0.438" stop-opacity="0.423"/><stop offset="0.500" stop-opacity="0.495"/><stop offset="0.562" stop-opacity="0.539"/><stop offset="0.625" stop-opacity="0.549"/><stop offset="0.688" stop-opacity="0.518"/><stop offset="0.750" stop-opacity="0.440"/><stop offset="0.812" stop-opacity="0.320"/><stop offset="0.875" stop-opacity="0.184"/><stop offset="0.938" stop-opacity="0.075"/><stop offset="1.000" stop-opacity="0.019"/></linearGradient><linearGradient id="g93"><stop offset="0.000" stop-opacity="0.022"/><stop offset="0.062" stop-opacity="0.038"/><stop offset="0.125" stop-opacity="0.064"/><stop offset="0.188" stop-opacity="0.103"/><stop offset="0.250" stop-opacity="0.160"/><stop offset="0.312" stop-opacity="0.233"/><stop offset="0.375" stop-opacity="0.318"/><stop offset="0.438" stop-opacity="0.406"/><stop offset="0.500" stop-opacity="0.485"/><stop offset="0.562" stop-opacity="0.542"/><stop offset="0.625" stop-opacity="0.568"/><stop offset="0.688" stop-opacity="0.554"/><stop offset="0.750" stop-opacity="0.491"/><stop offset="0.812" stop-opacity="0.377"/><stop offset="0.875" stop-opacity="0.227"/><stop offset="0.938" stop-opacity="0.092"/><stop offset="1.000" stop-opacity="0.019"/></linearGradient><linearGradient id="g94"><stop offset="0.000" stop-opacity="0.023"/><stop offset="0.062" stop-opacity="0.038"/><stop offset="0.125" stop-opacity="0.061"/><stop offset="0.188" stop-opacity="0.096"/><stop offset="0.250" stop-opacity="0.147"/><stop offset="0.312" stop-opacity="0.214"/><stop offset="0.375" stop-opacity="0.296"/><stop offset="0.438" stop-opacity="0.385"/><stop offset="0.500" stop-opacity="0.471"/><stop offset="0.562" stop-opacity="0.541"/><stop offset="0.625" stop-opacity="0.584"/><stop offset="0.688" stop-opacity="0.591"/><stop offset="0.750" stop-opacity="0.551"/><stop offset="0.812" stop-opacity="0.451"/><stop offset="0.875" stop-opacity="0.292"/><stop offset="0.938" stop-opacity="0.120"/><stop offset="1.000" stop-opacity="0.018"/></linearGradient><linearGradient id="g95"><stop offset="0.000" stop-opacity="0.024"/><stop offset="0.062" stop-opacity="0.038"/><stop offset="0.125" stop-opacity="0.059"/><stop offset="0.188" stop-opacity="0.091"/><stop offset="0.250" stop-opacity="0.137"/><stop offset="0.312" stop-opacity="0.198"/><stop offset="0.375" stop-opacity="0.275"/><stop offset="0.438" stop-opacity="0.363"/><stop offset="0.500" stop-opacity="0.453"/><stop offset="0.562" stop-opacity="0.534"/><stop offset="0.625" stop-opacity="0.596"/><stop offset="0.688" stop-opacity="0.626"/><stop offset="0.750" stop-opacity="0.615"/><stop offset="0.812" stop-opacity="0.543"/><stop offset="0.875" stop-opacity="0.389"/><stop offset="0.938" stop-opacity="0.167"/><stop offset="1.000" stop-opacity="0.013"/></linearGradient><linearGradient id="g96"><stop offset="0.000" stop-opacity="0.025"/><stop offset="0.062" stop-opacity="0.038"/><stop offset="0.125" stop-opacity="0.057"/><stop offset="0.188" stop-opacity="0.086"/><stop offset="0.250" stop-opacity="0.125"/><stop offset="0.312" stop-opacity="0.179"/><stop offset="0.375" stop-opacity="0.248"/><stop offset="0.438" stop-opacity="0.331"/><stop offset="0.500" stop-opacity="0.422"/><stop offset="0.562" stop-opacity="0.514"/><stop offset="0.625" stop-opacity="0.594"/><stop offset="0.688" stop-opacity="0.653"/><stop offset="0.750" stop-opacity="0.680"/><stop offset="0.812" stop-opacity="0.658"/><stop offset="0.875" stop-opacity="0.552"/><stop offset="0.938" stop-opacity="0.298"/><stop offset="1.000" stop-opacity="0.000"/></linearGradient><linearGradient id="g97"><stop offset="0.000" stop-opacity="0.029"/><stop offset="0.062" stop-opacity="0.041"/><stop offset="0.125" stop-opacity="0.059"/><stop offset="0.188" stop-opacity="0.083"/><stop offset="0.250" stop-opacity="0.116"/><stop offset="0.312" stop-opacity="0.161"/><stop offset="0.375" stop-opacity="0.218"/><stop offset="0.438" stop-opacity="0.289"/><stop offset="0.500" stop-opacity="0.373"/><stop offset="0.562" stop-opacity="0.466"/><stop offset="0.625" stop-opacity="0.560"/><stop offset="0.688" stop-opacity="0.647"/><stop offset="0.750" stop-opacity="0.717"/><stop offset="0.812" stop-opacity="0.761"/><stop offset="0.875" stop-opacity="0.763"/><stop offset="0.938" stop-opacity="0.665"/><stop offset="1.000" stop-opacity="0.019"/></linearGradient><linearGradient id="g98"><stop offset="0.000" stop-opacity="0.050"/><stop offset="0.062" stop-opacity="0.065"/><stop offset="0.125" stop-opacity="0.085"/><stop offset="0.188" stop-opacity="0.110"/><stop offset="0.250" stop-opacity="0.141"/><stop offset="0.312" stop-opacity="0.181"/><stop offset="0.375" stop-opacity="0.231"/><stop offset="0.438" stop-opacity="0.291"/><stop offset="0.500" stop-opacity="0.362"/><stop offset="0.562" stop-opacity="0.444"/><stop offset="0.625" stop-opacity="0.536"/><stop offset="0.688" stop-opacity="0.632"/><stop offset="0.750" stop-opacity="0.728"/><stop offset="0.812" stop-opacity="0.815"/><stop offset="0.875" stop-opacity="0.888"/><stop offset="0.938" stop-opacity="0.941"/><stop offset="1.000" stop-opacity="0.974"/></linearGradient><mask id="m16" maskUnits="userSpaceOnUse" x="-2000" y="-2000" width="6000" height="4000"><rect x="-2000" y="-2000" width="6000" height="4000" fill="#fff"/><path d="M66.80,-2.89H72.25V2.54H66.80ZM74.70,-2.89H79.50V2.54H74.70ZM81.26,-2.89H86.71V2.54H81.26ZM89.16,-2.89H93.96V2.54H89.16Z" fill="#000"/></mask><mask id="m17" maskUnits="userSpaceOnUse" x="-2000" y="-2000" width="6000" height="4000"><rect x="-2000" y="-2000" width="6000" height="4000" fill="#fff"/><path d="M0.55,-3.88H6.45V2.73H0.55ZM10.46,-3.88H15.31V2.73H10.46Z" fill="#000"/></mask><mask id="m18" maskUnits="userSpaceOnUse" x="-2000" y="-2000" width="6000" height="4000"><rect x="-2000" y="-2000" width="6000" height="4000" fill="#fff"/><path d="M0.55,-3.88H6.45V2.73H0.55ZM10.46,-3.88H15.31V2.73H10.46Z" fill="#000"/></mask></defs>
</svg></body></html>
